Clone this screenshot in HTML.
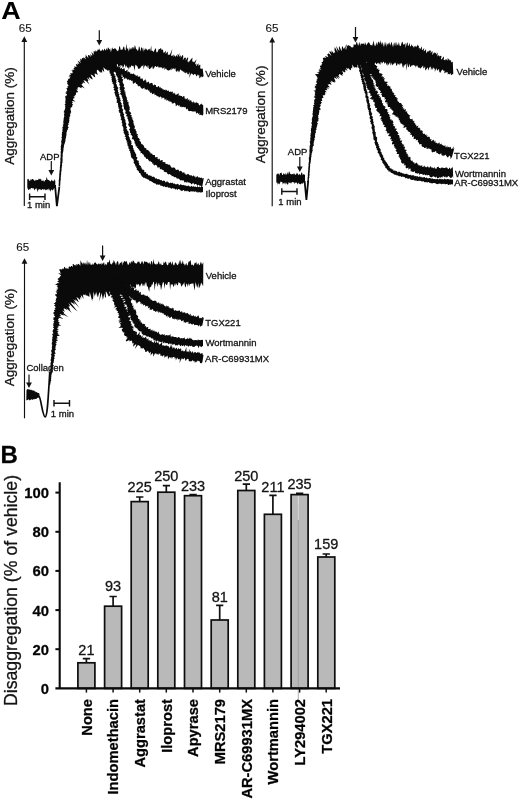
<!DOCTYPE html>
<html lang="en">
<head>
<meta charset="utf-8">
<title>Figure</title>
<style>
html,body{margin:0;padding:0;background:#fff;}
body{width:520px;height:800px;overflow:hidden;font-family:"Liberation Sans",Arial,sans-serif;}
svg{display:block;}
</style>
</head>
<body>
<svg width="520" height="800" viewBox="0 0 520 800">
<rect width="520" height="800" fill="#fff"/>
<g id="p1" fill="#0a0a0a">
<line x1="24.3" y1="40.3" x2="24.3" y2="206" stroke="#111" stroke-width="1.15"/><polygon points="21.400000000000002,41.9 27.2,41.9 24.3,36.3" fill="#111"/>
<polygon points="27.3,179.6 28.0,178.8 28.7,179.2 29.5,180.9 30.2,180.7 30.9,178.8 31.6,179.9 32.3,179.0 33.0,179.1 33.8,180.1 34.5,180.7 35.2,180.7 35.9,179.4 36.6,180.2 37.4,180.0 38.1,179.9 38.8,178.5 39.5,179.1 40.2,179.6 40.9,178.5 41.7,181.0 42.4,181.1 43.1,179.7 43.8,181.5 44.5,181.5 45.2,180.0 46.0,180.1 46.7,176.7 47.4,179.6 48.1,180.0 48.8,180.1 49.6,180.8 50.3,181.6 51.0,181.0 51.7,179.4 52.4,181.0 53.1,180.5 53.9,181.6 54.6,179.0 55.3,181.1 55.3,187.5 54.6,188.0 53.9,188.6 53.1,190.1 52.4,190.5 51.7,189.4 51.0,189.7 50.3,191.7 49.6,189.9 48.8,188.2 48.1,190.4 47.4,189.0 46.7,190.3 46.0,189.2 45.2,190.6 44.5,188.7 43.8,190.2 43.1,188.7 42.4,189.2 41.7,189.7 40.9,190.2 40.2,189.0 39.5,189.0 38.8,190.5 38.1,188.8 37.4,192.4 36.6,188.2 35.9,188.4 35.2,189.2 34.5,190.4 33.8,188.5 33.0,187.9 32.3,188.5 31.6,188.0 30.9,188.1 30.2,189.7 29.5,189.0 28.7,189.9 28.0,189.4 27.3,187.4"/>
<path d="M55,185 L56.9,206.2 L59.4,186.5" stroke="#0a0a0a" stroke-width="1.8" fill="none" stroke-linejoin="miter"/>
<polygon points="58.6,186.0 58.7,185.3 58.7,184.6 58.6,183.9 58.8,183.2 58.8,182.5 58.9,181.8 58.6,181.1 58.7,180.4 58.9,179.7 59.0,179.0 59.0,178.3 59.1,177.6 59.1,176.9 59.2,176.2 59.2,175.5 59.3,174.8 59.2,174.0 59.3,173.4 59.4,172.7 59.6,172.0 59.4,171.2 59.5,170.5 59.8,169.9 59.9,169.2 59.9,168.5 59.7,167.7 60.0,167.1 60.1,166.4 59.9,165.6 60.1,164.9 60.3,164.3 60.3,163.5 60.1,162.8 60.4,162.1 60.3,161.4 60.6,160.7 60.3,160.0 60.4,159.3 60.4,158.6 60.5,157.9 60.6,157.2 60.8,156.5 60.6,155.8 60.5,155.1 60.8,154.4 60.8,153.7 60.7,153.0 60.6,152.3 60.6,151.6 61.0,150.9 61.0,150.2 60.5,149.5 60.9,148.8 60.9,148.1 60.8,147.4 60.7,146.6 60.9,146.0 61.0,145.3 61.3,144.6 61.2,143.9 61.5,143.2 61.2,142.4 61.3,141.7 61.0,141.0 61.6,140.4 61.7,139.7 61.7,139.0 62.0,138.3 61.3,137.5 61.8,136.8 62.0,136.2 62.0,135.4 61.5,134.7 62.2,134.1 61.9,133.3 61.9,132.6 62.2,131.9 62.7,131.3 62.3,130.5 62.2,129.8 62.9,129.2 62.5,128.4 62.5,127.7 62.2,127.0 63.2,126.4 63.3,125.7 62.5,124.9 63.5,124.3 63.5,123.6 63.2,122.8 63.4,122.2 63.2,121.4 63.8,120.8 63.1,120.0 63.9,119.4 63.4,118.6 64.2,118.0 63.8,117.2 64.4,116.6 64.2,115.9 64.2,115.2 63.8,114.4 64.2,113.7 64.7,113.1 63.7,112.3 63.9,111.6 63.9,110.9 64.8,110.3 64.7,109.5 65.0,108.9 65.2,108.2 65.4,107.5 64.8,106.7 65.4,106.1 65.4,105.4 64.5,104.6 65.1,103.9 65.7,103.3 65.0,102.5 65.7,101.9 64.8,101.1 65.8,100.5 65.5,99.7 65.4,99.0 65.7,98.3 65.1,97.5 65.4,96.9 65.3,96.1 66.7,95.6 66.9,94.9 67.0,94.3 65.5,93.3 65.6,92.6 67.2,92.1 65.7,91.2 67.4,90.8 66.9,90.0 67.0,89.3 66.2,88.4 67.3,87.9 67.8,87.3 67.2,86.5 68.6,86.0 68.3,85.2 67.9,84.4 67.0,83.5 67.4,82.9 67.4,82.2 66.7,81.3 67.9,80.8 67.7,80.1 68.2,79.4 68.3,78.7 69.7,78.4 70.3,77.8 68.4,76.4 70.8,76.6 68.9,75.0 70.1,74.7 71.2,74.5 69.8,72.9 72.5,73.6 71.8,72.4 73.4,72.7 71.3,70.2 72.9,70.5 72.6,69.4 74.6,70.1 73.4,68.3 74.1,68.0 74.7,67.5 74.0,66.3 76.2,66.9 76.6,66.3 76.0,65.1 75.9,64.1 78.1,64.7 77.3,63.3 79.4,64.0 78.6,62.4 77.4,60.5 81.2,62.9 79.4,60.2 80.9,60.8 79.8,58.4 81.9,59.8 81.8,58.4 82.3,57.9 83.5,58.3 83.5,57.0 85.9,59.5 85.2,57.0 85.8,56.6 85.5,54.6 88.4,58.3 88.0,56.1 88.2,54.9 89.0,54.9 90.9,56.9 90.1,54.0 91.7,55.5 92.4,55.4 91.3,51.6 93.6,54.8 93.7,53.2 93.6,51.3 94.4,51.2 95.4,51.8 95.6,50.1 96.9,51.8 97.3,50.7 97.7,49.4 98.6,50.0 99.0,48.3 100.4,51.2 100.9,50.2 101.8,51.0 102.1,48.8 103.2,50.8 103.8,50.2 104.3,48.4 105.2,49.8 106.0,50.7 106.4,47.7 107.3,50.3 107.9,47.5 108.6,47.8 109.4,49.8 110.1,48.2 110.9,52.3 111.5,50.1 112.1,47.3 112.9,48.9 113.6,49.0 114.3,48.4 115.0,48.3 115.7,48.8 116.5,49.8 117.2,51.2 117.9,50.5 118.6,50.5 119.2,46.5 119.9,46.2 120.7,50.1 121.4,49.5 122.1,49.9 122.8,48.7 123.5,46.4 124.2,46.8 124.9,49.9 125.6,50.5 126.3,43.4 127.0,49.1 127.7,48.0 128.4,51.7 129.1,46.9 129.8,50.2 130.5,48.7 131.2,47.6 131.9,49.6 132.6,47.1 133.3,47.1 134.0,49.2 134.8,45.1 135.5,46.7 136.2,49.8 136.9,48.8 137.6,50.9 138.3,50.2 139.0,46.0 139.7,47.5 140.4,51.8 141.1,47.7 141.8,47.2 142.5,48.6 143.2,51.8 143.9,47.6 144.6,50.7 145.3,48.1 146.0,49.9 146.8,48.4 147.4,50.7 148.1,49.4 148.9,49.2 149.6,48.6 150.1,51.2 151.3,45.5 151.5,50.8 152.2,50.8 152.9,51.1 153.5,52.3 154.4,50.3 155.4,48.3 156.0,48.8 156.3,51.9 157.0,52.4 157.8,51.4 158.9,48.8 159.6,49.2 160.5,48.2 161.2,48.2 161.6,50.2 162.5,49.5 163.1,49.7 163.3,52.3 163.9,52.9 164.8,52.0 165.9,50.4 165.7,54.1 166.9,52.5 167.9,51.6 167.8,54.7 168.4,54.8 169.2,54.8 170.0,54.4 172.4,48.8 170.9,56.2 171.8,55.5 172.5,55.8 173.7,54.3 173.5,57.1 175.0,54.9 175.1,56.7 176.0,56.3 177.6,53.8 177.1,57.2 179.4,53.1 179.2,55.8 179.5,56.8 181.0,55.1 180.6,58.0 182.5,55.1 183.1,55.5 183.3,56.9 182.7,60.2 184.6,57.5 185.1,58.1 186.1,57.6 185.6,60.5 187.8,57.3 188.3,58.0 187.3,61.8 188.4,61.2 188.4,62.7 190.7,59.5 192.5,57.5 192.3,59.4 192.2,61.4 192.9,61.5 193.6,61.8 193.9,62.6 196.6,59.2 195.3,63.1 195.2,64.6 196.6,63.6 195.8,66.5 198.4,63.2 198.5,64.6 198.5,66.0 200.0,64.6 200.4,65.3 200.2,67.3 200.4,68.6 201.1,68.7 201.9,68.8 202.7,68.6 203.6,76.2 202.5,76.9 201.6,77.2 201.3,76.1 199.8,78.2 199.2,77.7 199.3,75.1 198.4,75.8 198.1,74.2 197.1,75.4 196.0,76.4 195.8,74.7 195.2,74.1 194.5,73.9 193.4,75.3 192.9,74.5 192.3,74.0 191.8,73.2 190.8,74.2 189.1,78.0 190.0,71.9 188.6,74.3 187.9,74.2 187.3,73.9 187.1,71.8 185.9,73.5 185.4,72.7 184.6,73.0 184.2,71.5 183.4,72.2 183.0,70.5 182.1,71.5 181.6,70.6 181.0,70.1 180.4,69.2 179.0,72.5 178.5,71.5 178.0,70.3 177.0,71.8 176.3,71.5 175.7,71.0 175.6,68.1 174.6,69.6 174.1,68.2 173.3,68.7 172.6,68.6 171.6,70.4 171.3,67.9 170.2,70.3 169.5,69.9 168.7,70.5 168.0,70.6 167.4,70.0 166.7,69.7 166.2,68.5 165.5,68.6 164.6,69.9 164.2,67.0 163.4,68.3 162.6,68.8 162.0,67.6 161.4,67.4 160.6,67.5 160.0,67.0 159.2,67.7 158.5,67.4 158.0,65.8 157.2,67.0 156.4,67.1 155.8,66.3 155.1,66.0 154.3,67.6 153.5,68.7 152.8,69.1 152.3,66.1 151.5,67.6 150.8,67.9 150.0,68.9 149.3,69.0 148.6,68.1 148.1,64.8 147.2,68.1 146.6,66.2 145.9,66.2 145.3,65.0 144.5,65.9 143.6,69.6 143.2,64.6 142.4,66.2 141.7,65.7 140.9,67.6 140.2,67.8 139.5,68.8 138.8,68.7 138.1,68.7 137.5,66.4 136.8,66.0 136.1,65.0 135.4,64.8 134.4,71.0 133.9,67.6 133.3,65.6 132.5,66.3 131.9,65.2 131.1,66.1 130.4,67.8 129.7,66.2 128.9,69.9 128.3,67.6 127.6,67.8 126.9,66.9 126.2,65.2 125.5,67.9 124.9,63.9 124.1,65.3 123.4,67.6 122.7,67.7 122.0,64.8 121.3,66.2 120.6,65.0 119.9,65.8 119.2,66.2 118.7,68.2 117.7,64.3 116.9,64.0 117.1,71.5 115.7,65.7 114.9,65.6 114.3,66.2 113.4,65.3 112.7,65.4 111.9,65.0 111.3,65.9 110.5,65.4 110.3,67.6 110.2,69.9 108.8,67.7 108.8,70.2 107.1,66.8 106.8,68.2 106.4,69.5 105.7,69.5 104.6,68.6 103.4,67.2 104.3,71.9 103.4,71.3 101.9,69.4 102.2,72.0 102.1,73.1 100.6,71.6 100.6,73.0 98.0,69.9 97.0,69.7 96.9,71.0 96.8,72.1 97.9,74.9 96.6,74.2 95.1,73.4 94.5,73.7 94.8,75.3 95.3,77.2 94.3,77.0 92.1,75.1 90.6,74.4 92.2,77.7 92.7,79.5 91.4,78.9 89.2,77.2 88.7,77.7 90.0,80.6 86.9,77.6 88.4,80.8 87.6,80.9 89.5,84.5 85.9,81.0 84.7,80.6 83.4,80.3 85.4,83.5 83.6,82.6 82.7,82.7 82.7,83.7 82.1,84.1 81.4,84.4 84.8,88.4 82.2,87.1 81.4,87.3 81.5,88.3 78.9,86.9 78.3,87.3 77.6,87.7 77.5,88.6 77.8,89.7 76.2,89.5 77.9,91.4 78.1,92.2 76.9,92.3 76.0,92.7 76.0,93.4 75.6,94.0 76.1,95.0 74.5,95.2 75.5,96.2 73.5,96.3 74.4,97.4 74.6,98.2 73.1,98.5 73.1,99.2 73.3,100.0 75.7,101.5 72.2,101.1 72.3,101.9 73.0,102.8 71.8,103.2 72.7,104.2 73.0,105.0 72.0,105.5 72.4,106.3 71.9,106.9 71.1,107.4 70.6,108.0 70.5,108.7 70.5,109.5 70.7,110.2 70.9,111.0 71.1,111.7 71.2,112.4 70.0,113.0 70.9,113.8 69.9,114.4 69.9,115.1 70.6,115.9 69.7,116.5 69.6,117.1 69.3,117.8 69.6,118.6 69.2,119.2 69.2,119.9 69.5,120.7 69.0,121.3 69.3,122.1 69.0,122.8 68.1,123.3 69.0,124.2 68.2,124.8 67.8,125.4 68.3,126.2 67.6,126.8 69.0,127.8 67.8,128.3 68.0,129.0 67.7,129.7 67.1,130.3 67.0,131.0 66.9,131.7 66.5,132.3 66.5,133.0 66.5,133.7 66.4,134.4 66.7,135.2 66.0,135.8 66.2,136.5 66.0,137.2 65.9,137.9 65.7,138.6 65.7,139.3 65.1,139.9 65.7,140.7 65.2,141.4 65.2,142.1 64.9,142.7 64.8,143.4 64.3,144.0 64.3,144.8 63.9,145.4 63.9,146.1 64.0,146.9 63.7,147.5 63.5,148.2 63.5,148.9 63.5,149.6 63.4,150.3 63.3,151.0 63.2,151.7 63.0,152.4 63.0,153.1 62.6,153.8 62.7,154.5 62.6,155.2 62.9,155.9 62.7,156.6 62.5,157.3 62.4,158.0 62.6,158.7 62.6,159.4 62.6,160.1 62.6,160.8 62.4,161.5 62.5,162.2 62.4,162.9 62.1,163.6 62.0,164.3 62.1,165.0 62.1,165.7 61.8,166.4 61.8,167.1 61.8,167.8 61.5,168.5 61.7,169.2 61.5,169.9 61.6,170.6 61.4,171.3 61.2,172.0 61.2,172.7 61.0,173.4 61.3,174.1 61.0,174.8 60.9,175.5 61.0,176.2 60.7,176.9 60.8,177.6 60.6,178.3 60.9,179.0 60.7,179.7 60.6,180.4 60.4,181.1 60.4,181.8 60.4,182.5 60.4,183.2 60.2,183.9 60.3,184.6 60.2,185.3 60.2,186.0"/>
<polygon points="106.1,63.5 106.6,64.9 107.5,63.8 108.0,65.3 108.7,65.5 109.7,63.8 110.2,64.9 111.2,63.4 111.9,64.0 112.6,64.0 113.2,64.7 114.0,64.2 114.6,64.9 115.5,64.4 116.2,64.7 116.2,67.0 117.0,66.6 117.8,66.6 118.3,67.1 118.9,67.6 120.8,65.0 120.0,68.5 120.7,68.5 122.1,67.5 122.0,69.0 122.7,69.3 124.2,68.0 124.6,68.8 124.8,69.9 125.0,70.9 125.8,70.9 127.3,69.7 127.7,70.5 127.4,72.4 128.8,71.3 129.0,72.4 130.1,72.0 130.2,73.3 130.6,74.0 131.6,73.5 132.0,74.3 133.3,73.4 134.0,73.7 134.4,74.5 135.1,74.7 135.7,75.0 135.8,76.2 137.1,75.3 137.8,75.4 137.8,77.0 138.8,76.6 139.7,76.5 140.4,76.7 140.1,78.7 141.2,78.2 141.5,79.1 142.7,78.3 142.8,79.6 143.2,80.4 143.6,81.3 145.5,79.0 145.6,80.4 146.4,80.4 146.2,82.3 147.0,82.4 148.0,81.9 149.0,81.4 149.1,82.8 149.4,83.8 150.5,83.2 151.6,82.7 152.1,83.2 152.8,83.4 152.8,84.9 153.3,85.5 154.6,84.4 155.2,84.9 155.9,85.1 156.0,86.4 156.6,87.0 157.2,87.3 158.4,86.0 159.1,86.2 159.3,87.8 160.4,86.7 160.7,88.2 161.4,88.2 162.2,88.2 162.5,89.3 163.3,89.4 163.9,89.6 164.6,89.9 165.5,89.5 165.7,90.7 167.0,89.4 167.1,91.1 168.0,90.7 168.9,90.6 169.0,92.0 169.9,91.7 170.7,91.6 171.3,92.0 172.4,91.4 172.9,92.0 172.8,93.9 174.2,92.5 174.5,93.4 175.3,93.4 175.4,95.0 176.4,94.5 177.3,94.3 178.6,93.1 178.7,94.6 178.7,96.3 180.0,95.1 180.4,96.0 181.1,96.1 182.0,95.9 182.1,97.3 183.3,96.3 184.3,95.9 184.5,97.1 184.7,98.5 185.5,98.4 185.8,99.5 187.0,98.4 188.0,97.9 187.7,100.4 189.0,99.3 189.6,99.7 189.5,101.5 191.1,99.7 191.3,101.0 191.7,101.8 192.1,102.7 193.5,101.1 193.7,102.5 194.6,102.3 194.9,103.4 196.5,101.5 196.6,102.9 197.5,102.7 198.0,103.3 198.7,103.5 198.9,104.9 199.3,105.6 200.8,103.9 201.7,103.6 201.9,105.0 202.8,104.6 203.2,105.4 203.4,114.3 202.0,116.0 201.7,114.8 200.9,114.9 200.2,114.8 199.2,115.2 199.5,112.8 198.0,114.4 198.0,112.6 197.0,113.3 196.1,113.5 195.9,112.3 195.5,111.3 194.7,111.5 193.9,111.5 193.1,111.5 192.4,111.5 191.7,111.2 191.1,111.0 190.3,110.9 189.4,111.2 188.9,110.7 188.1,110.8 187.9,109.4 187.5,108.4 186.2,109.6 186.0,108.4 185.7,107.3 185.0,107.0 184.0,107.6 183.6,106.7 182.7,107.0 181.8,107.5 181.4,106.5 180.5,106.8 179.7,106.9 179.8,104.9 178.4,106.2 178.2,105.0 177.5,104.8 176.0,106.3 175.6,105.6 175.7,103.8 175.0,103.6 174.8,102.4 173.6,103.3 172.6,103.6 171.9,103.4 171.7,102.2 171.1,101.8 170.4,101.6 169.5,101.9 169.4,100.5 168.1,101.6 168.2,99.7 167.1,100.5 166.2,100.6 166.4,98.4 165.0,100.0 164.5,99.4 164.3,98.0 163.5,98.1 163.0,97.2 161.7,98.9 161.5,97.3 160.8,97.0 160.4,96.2 159.2,97.4 158.6,96.9 158.2,96.0 157.3,96.3 156.6,96.3 156.3,95.1 155.8,94.7 154.6,95.3 154.5,94.0 154.1,93.3 152.9,94.1 151.9,94.2 151.9,92.9 151.4,92.4 150.0,93.2 150.3,91.5 149.2,91.9 149.4,90.3 148.3,90.7 148.0,89.9 147.6,89.2 146.2,90.0 146.0,89.0 144.8,89.7 144.6,88.6 144.4,87.5 142.8,88.8 142.1,88.7 141.5,88.3 140.9,87.9 140.6,87.0 140.2,86.4 139.5,86.1 138.5,86.4 138.1,85.6 137.5,85.4 137.4,84.2 136.7,84.0 135.9,83.8 135.8,82.6 135.1,82.5 133.5,83.8 132.9,83.4 132.7,82.3 132.6,81.1 132.2,80.4 131.0,81.0 130.9,79.7 129.7,80.5 129.3,79.8 128.7,79.3 127.6,79.9 127.2,79.2 126.9,78.2 125.6,79.0 125.7,77.4 123.6,79.8 124.1,77.4 123.4,77.2 122.9,76.7 122.4,76.2 122.3,74.8 121.5,74.8 120.8,74.6 120.3,74.1 119.5,74.1 118.8,73.8 118.1,73.7 117.9,72.4 116.3,74.2 116.1,73.0 115.9,71.7 115.4,71.0 113.9,72.6 113.1,72.8 112.5,72.4 112.0,72.0 111.6,70.8 111.0,70.6 110.2,71.0 109.7,69.4 109.0,69.4 108.0,71.1 107.4,70.5 106.8,69.5 106.0,69.5"/>
<polygon points="110.4,65.4 111.6,65.6 111.5,66.4 112.1,67.0 111.8,67.8 111.6,68.7 111.8,69.4 112.9,69.7 112.9,70.5 113.2,71.2 113.3,71.9 113.3,72.7 114.0,73.2 113.9,74.0 115.0,74.4 114.2,75.4 115.6,75.8 115.6,76.5 115.1,77.4 115.8,78.0 115.7,78.7 115.7,79.5 116.4,80.1 116.6,80.7 115.8,81.6 117.0,82.1 115.9,83.1 116.0,83.8 116.8,84.3 116.7,85.1 117.0,85.7 117.3,86.4 117.4,87.1 118.2,87.6 118.4,88.3 117.7,89.2 117.7,89.9 118.4,90.4 117.9,91.3 118.3,91.9 118.9,92.5 118.1,93.4 119.3,93.8 119.4,94.5 119.1,95.3 119.0,96.0 119.6,96.6 119.4,97.4 120.4,97.9 120.2,98.6 120.0,99.4 120.9,99.9 120.7,100.7 120.2,101.5 120.8,102.1 121.1,102.7 121.9,103.3 121.2,104.2 121.6,104.8 122.5,105.3 121.9,106.2 122.6,106.7 121.7,107.7 122.3,108.2 122.2,109.0 123.4,109.4 123.1,110.2 122.8,111.0 122.7,111.8 123.4,112.4 123.1,113.2 123.8,113.7 124.3,114.3 123.8,115.2 123.8,115.9 124.2,116.5 124.1,117.3 125.2,117.8 124.2,118.7 125.3,119.2 124.9,120.0 125.6,120.6 125.8,121.3 125.0,122.1 126.0,122.7 126.4,123.3 126.0,124.1 126.3,124.7 125.9,125.5 125.9,126.2 126.9,126.7 127.1,127.4 126.4,128.2 126.4,129.0 126.9,129.5 127.5,130.1 127.3,130.9 128.4,131.3 128.3,132.0 128.7,132.6 128.4,133.4 128.8,134.0 129.3,134.6 128.2,135.7 129.2,136.1 128.8,136.9 129.9,137.3 129.3,138.3 130.3,138.7 129.9,139.5 130.6,140.0 130.8,140.7 131.4,141.3 131.5,141.9 131.2,142.8 131.7,143.4 131.2,144.3 131.3,145.0 132.5,145.3 133.0,145.9 133.0,146.7 132.9,147.4 133.2,148.0 133.6,148.7 133.6,149.4 133.6,150.1 134.5,150.6 134.0,151.4 135.0,151.8 135.1,152.5 135.4,153.2 135.7,153.8 136.1,154.4 136.4,155.0 136.0,155.9 136.0,156.6 136.8,157.1 137.4,157.6 137.2,158.4 136.6,159.4 136.9,160.0 137.8,160.4 138.5,160.8 138.9,161.4 138.5,162.4 139.0,162.9 139.3,163.5 139.0,164.4 139.2,165.1 140.2,165.4 140.5,166.1 141.2,166.5 140.6,167.5 141.8,167.5 141.4,168.5 142.1,168.8 142.6,169.1 142.3,170.1 143.7,169.8 144.1,170.3 144.5,170.7 144.0,172.2 145.1,171.9 145.6,172.3 146.3,172.5 146.2,173.7 146.7,174.1 147.8,173.7 147.9,174.7 148.3,175.3 148.8,175.6 149.8,175.2 150.4,175.7 151.1,175.7 151.8,175.9 151.8,177.3 153.1,176.4 153.6,176.8 154.3,177.0 154.8,177.5 155.1,178.3 155.7,178.7 156.7,178.1 157.0,179.0 157.7,179.2 158.4,179.1 159.0,179.3 159.6,179.5 160.3,179.9 160.9,180.2 161.6,180.1 162.1,180.8 162.7,181.2 163.6,180.5 164.3,180.7 164.9,181.1 165.3,182.1 165.9,182.4 166.9,181.3 167.6,181.5 168.0,182.6 168.8,182.2 169.3,183.3 170.1,182.9 170.9,182.6 171.5,183.2 172.3,182.7 173.0,182.7 173.4,184.0 174.3,183.3 174.9,183.9 175.5,184.3 176.2,184.2 177.0,184.2 177.8,183.7 178.4,184.0 178.9,185.2 179.6,185.3 180.5,184.0 181.1,184.8 181.8,184.8 182.4,185.3 183.2,184.7 183.8,185.2 184.5,185.2 185.1,185.8 185.9,185.2 186.5,186.1 187.1,186.3 187.9,185.7 188.7,185.4 189.2,186.3 189.9,186.4 190.6,186.7 191.3,186.0 192.0,185.8 192.6,186.9 193.4,186.3 194.1,186.3 194.7,187.0 195.4,186.4 196.1,186.9 196.8,187.0 197.5,185.9 198.2,187.2 198.9,186.9 199.6,186.5 200.3,186.8 200.9,187.4 201.6,186.1 202.3,187.1 203.0,186.8 203.0,192.1 202.3,192.2 201.5,192.3 200.8,193.0 200.1,191.8 199.4,192.2 198.6,192.8 198.0,191.5 197.2,192.7 196.5,192.0 195.8,191.3 195.1,191.8 194.4,191.7 193.7,191.2 192.9,191.7 192.3,191.3 191.5,191.6 190.9,190.9 190.0,192.0 189.3,192.0 188.6,191.3 187.9,191.6 187.3,190.4 186.4,191.5 185.9,190.4 185.0,191.4 184.4,190.9 183.8,189.9 183.0,190.3 182.2,191.0 181.5,190.8 180.8,190.7 180.2,189.7 179.5,189.5 178.9,189.1 178.2,188.9 177.2,190.2 176.8,188.6 175.8,189.9 175.3,188.9 174.6,188.8 173.9,188.5 173.2,188.6 172.6,188.1 171.7,188.7 171.0,188.5 170.4,188.1 169.8,187.4 169.0,187.9 168.3,187.6 167.7,187.2 167.1,186.6 166.1,187.5 165.5,187.0 164.8,186.7 164.2,186.1 163.3,186.9 162.8,186.1 162.0,186.3 161.4,185.6 160.5,186.1 160.2,184.7 159.5,184.5 158.6,184.8 157.9,184.7 157.3,184.2 156.3,184.7 155.8,183.9 155.3,183.2 154.4,183.4 153.9,182.7 153.0,183.0 152.6,182.0 151.8,182.0 151.4,181.2 150.7,181.1 149.7,181.3 149.4,180.4 148.8,180.1 148.2,179.5 147.5,179.3 146.9,178.9 146.2,178.6 145.3,178.6 144.9,177.8 143.9,178.0 143.2,177.6 142.7,176.9 142.2,176.4 141.4,176.0 141.4,174.9 140.6,174.6 140.6,173.5 139.8,173.1 139.0,172.8 138.9,171.9 138.7,171.1 137.9,170.7 137.4,170.1 136.5,169.6 137.1,168.5 136.2,168.0 136.3,167.2 136.4,166.4 134.9,166.3 135.5,165.2 134.9,164.7 134.8,164.0 134.2,163.5 133.8,162.9 133.5,162.2 134.0,161.2 133.6,160.6 133.6,159.9 133.2,159.3 132.8,158.7 132.0,158.2 131.3,157.7 131.5,156.9 130.9,156.4 130.9,155.6 130.8,154.9 130.7,154.2 130.6,153.4 130.3,152.8 130.0,152.1 130.4,151.2 129.2,150.9 129.3,150.1 129.8,149.2 128.5,148.9 128.7,148.1 128.4,147.4 128.2,146.8 128.5,145.9 127.2,145.6 127.9,144.6 127.0,144.2 127.4,143.3 127.5,142.5 126.3,142.2 127.0,141.2 126.6,140.6 126.0,140.0 125.9,139.3 125.3,138.8 125.9,137.8 125.9,137.1 124.4,136.8 125.5,135.8 125.0,135.2 124.8,134.5 124.2,133.9 124.2,133.2 123.5,132.6 123.5,131.9 124.2,131.0 122.8,130.6 123.5,129.7 123.2,129.0 123.5,128.2 123.3,127.5 122.6,126.9 123.0,126.1 121.9,125.6 122.0,124.9 122.6,124.0 122.2,123.4 121.6,122.8 121.9,122.0 122.0,121.3 121.6,120.6 121.6,119.9 120.5,119.4 121.4,118.5 120.5,118.0 121.4,117.1 120.6,116.5 120.0,116.0 120.3,115.2 120.2,114.5 120.3,113.8 120.2,113.1 119.0,112.7 119.4,111.9 118.7,111.3 118.6,110.6 119.0,109.8 119.6,108.9 118.4,108.5 118.8,107.7 118.1,107.1 118.2,106.4 118.3,105.6 117.8,105.0 118.1,104.2 118.0,103.5 117.7,102.9 116.5,102.4 116.9,101.6 116.6,101.0 117.0,100.2 117.2,99.4 115.8,99.0 116.8,98.0 116.4,97.4 116.2,96.7 115.4,96.2 115.4,95.4 115.1,94.8 115.2,94.0 114.8,93.4 114.2,92.8 114.7,92.0 115.0,91.2 114.4,90.6 114.1,89.9 113.5,89.3 114.6,88.4 113.7,87.9 113.2,87.2 114.0,86.4 113.6,85.7 113.7,85.0 113.5,84.3 112.8,83.7 112.2,83.2 112.9,82.3 111.7,81.8 111.9,81.1 112.0,80.4 111.5,79.8 111.7,79.0 112.0,78.2 111.1,77.8 111.7,76.9 111.7,76.2 111.1,75.7 110.2,75.3 110.8,74.3 110.6,73.7 109.5,73.3 109.9,72.5 109.2,72.0 109.7,71.0 109.5,70.4 108.4,70.1 108.5,69.3 107.9,68.8 108.1,67.9 107.8,67.3 106.7,67.0"/>
<polygon points="115.5,64.5 115.4,65.4 115.5,66.3 115.7,67.1 116.7,67.2 117.9,67.3 117.6,68.4 118.3,68.9 119.1,69.2 119.4,69.9 119.6,70.7 119.8,71.5 119.5,72.4 120.7,72.7 120.5,73.6 121.3,74.1 120.8,75.2 122.2,75.4 121.2,76.6 122.4,77.0 122.8,77.7 121.7,78.8 123.1,79.2 122.9,80.0 123.0,80.7 122.5,81.5 122.8,82.2 122.8,82.9 123.3,83.6 123.8,84.2 124.0,84.9 124.1,85.6 123.6,86.4 123.7,87.1 124.6,87.6 125.1,88.3 123.9,89.2 124.4,89.8 124.3,90.6 125.7,91.0 124.1,92.0 125.8,92.4 125.7,93.1 125.1,93.9 125.9,94.5 125.5,95.3 126.1,95.8 125.9,96.6 127.0,97.0 126.4,97.9 127.2,98.4 126.9,99.2 126.8,100.0 128.0,100.4 126.8,101.4 128.3,101.8 128.6,102.4 128.6,103.2 128.3,104.0 128.5,104.6 129.3,105.2 128.6,106.1 129.5,106.6 129.6,107.3 129.9,107.9 129.4,108.8 129.9,109.4 129.2,110.3 129.3,111.0 129.6,111.7 130.9,112.1 130.4,112.9 131.5,113.3 130.3,114.4 130.6,115.0 132.0,115.4 131.5,116.3 131.3,117.1 132.5,117.5 131.7,118.4 133.2,118.8 132.2,119.8 133.4,120.2 132.9,121.0 133.9,121.5 133.0,122.5 134.2,122.9 133.4,123.8 133.8,124.4 134.3,125.0 134.4,125.7 134.8,126.4 135.0,127.0 134.5,127.9 134.2,128.7 135.6,129.0 135.6,129.7 135.8,130.4 135.9,131.1 136.8,131.4 136.0,132.4 137.2,132.7 136.2,133.8 137.4,134.1 138.0,134.5 137.0,135.7 138.3,135.8 137.7,136.8 137.7,137.6 138.6,137.9 139.3,138.3 139.0,139.2 140.4,139.3 139.2,140.6 139.9,141.0 140.4,141.5 140.8,142.1 141.1,142.7 141.0,143.5 141.7,143.9 142.1,144.4 143.1,144.6 143.1,145.4 144.0,145.6 144.0,146.5 144.3,147.1 144.5,147.8 145.0,148.2 146.4,147.9 146.2,148.9 146.5,149.6 146.8,150.2 148.1,149.8 148.4,150.4 148.9,150.9 149.5,151.1 149.3,152.3 150.4,152.1 150.2,153.4 151.4,153.0 151.5,153.9 152.4,153.8 152.5,154.8 153.2,155.0 154.1,155.0 154.9,155.0 154.9,156.3 155.2,157.0 155.8,157.4 156.9,157.0 157.7,157.1 157.4,158.8 158.3,158.7 158.7,159.4 160.0,158.6 159.8,160.2 160.3,160.7 161.6,160.1 162.4,160.1 162.7,160.8 162.6,162.2 163.5,162.1 164.2,162.3 165.1,162.1 165.5,162.7 165.5,164.1 166.4,163.9 167.3,163.8 167.7,164.5 168.4,164.7 169.3,164.6 169.9,164.9 170.3,165.5 170.7,166.2 171.0,167.0 171.5,167.5 172.1,167.8 173.1,167.4 173.8,167.5 174.5,167.7 175.2,168.0 175.2,169.3 175.9,169.5 176.4,170.0 177.3,169.8 178.2,169.4 178.7,170.0 179.0,170.8 179.4,171.6 180.6,170.8 181.2,170.9 181.8,171.4 182.0,172.5 182.7,172.6 183.5,172.5 184.3,172.2 184.5,173.6 185.3,173.6 185.6,174.4 186.2,174.8 187.0,174.6 188.0,173.8 188.6,174.3 189.1,174.8 189.7,175.2 190.2,175.6 191.2,175.0 191.7,175.6 192.1,176.5 193.0,175.8 193.8,175.3 194.1,177.1 195.1,175.6 195.4,177.4 196.2,177.2 197.1,176.2 197.8,176.3 198.1,177.8 199.0,177.1 199.6,177.4 200.2,177.9 201.0,177.4 201.7,177.8 202.2,178.6 203.0,178.3 203.8,178.0 202.3,186.4 201.4,186.8 200.9,185.9 200.2,185.4 199.4,185.8 198.8,184.7 198.0,185.1 197.1,185.9 196.7,184.4 196.0,184.0 195.3,183.9 194.3,184.8 193.9,183.5 193.2,183.2 192.4,183.6 191.4,184.4 190.9,183.4 190.2,183.1 189.5,182.9 189.0,182.0 187.9,183.0 187.6,181.6 186.4,182.9 186.1,181.5 185.0,182.5 184.3,182.2 184.0,180.9 183.4,180.3 182.5,180.5 181.8,180.4 181.2,179.9 180.1,180.5 179.7,179.6 179.2,178.9 178.6,178.6 177.5,179.3 177.4,177.7 176.2,178.4 176.1,176.9 175.2,177.2 174.4,177.2 173.8,176.8 173.2,176.2 172.6,175.9 171.6,176.3 171.4,175.1 170.6,174.9 170.2,174.3 169.5,174.0 168.3,174.6 167.8,174.0 167.3,173.5 166.9,172.7 166.4,172.1 165.4,172.3 164.9,171.7 163.8,172.1 164.0,170.4 163.2,170.3 162.7,169.7 161.7,169.9 161.7,168.7 160.5,169.2 159.8,169.0 159.8,167.6 159.2,167.3 158.1,167.6 157.2,167.6 157.2,166.3 156.9,165.5 156.2,165.2 155.7,164.7 154.2,165.6 153.8,165.0 153.3,164.4 153.3,163.2 152.0,163.7 152.2,162.3 151.4,162.1 150.7,161.9 150.7,160.7 149.2,161.4 149.1,160.4 148.3,160.2 148.1,159.2 147.6,158.8 146.4,159.0 146.0,158.4 145.8,157.4 145.0,157.2 144.4,156.7 144.1,156.0 143.8,155.2 143.4,154.5 142.5,154.3 142.2,153.6 141.8,152.9 140.3,153.2 140.9,151.7 140.2,151.3 139.7,150.6 139.0,150.2 138.9,149.3 138.2,148.9 138.0,148.1 136.9,147.9 137.4,146.6 136.4,146.4 135.4,146.1 136.0,144.9 135.3,144.4 135.3,143.5 134.3,143.2 134.9,142.1 134.6,141.4 134.1,140.9 134.0,140.1 133.7,139.4 132.3,139.2 131.8,138.6 132.2,137.6 132.6,136.7 132.1,136.1 131.9,135.4 131.0,134.9 130.5,134.3 131.3,133.3 130.1,132.9 130.0,132.1 130.0,131.4 129.9,130.6 129.3,130.0 128.9,129.4 130.1,128.3 130.1,127.6 129.7,127.0 129.1,126.4 128.7,125.8 128.4,125.1 128.1,124.5 128.6,123.6 129.0,122.8 128.6,122.1 128.7,121.4 128.2,120.8 128.2,120.1 128.1,119.4 127.5,118.8 127.3,118.1 127.7,117.3 127.4,116.6 126.1,116.2 126.1,115.5 126.8,114.6 126.7,113.9 125.3,113.5 125.4,112.8 125.1,112.1 126.1,111.1 125.2,110.7 125.3,109.9 124.4,109.4 124.0,108.8 123.8,108.1 124.1,107.3 123.4,106.7 123.8,105.9 123.3,105.3 123.6,104.5 123.3,103.9 123.0,103.2 123.3,102.4 122.8,101.8 123.6,100.9 122.1,100.5 123.2,99.5 122.7,98.9 122.3,98.3 122.2,97.6 122.0,96.8 121.5,96.2 121.8,95.4 121.1,94.8 120.2,94.3 120.1,93.6 120.6,92.7 121.2,91.9 119.7,91.4 120.9,90.5 120.3,89.9 119.3,89.3 120.3,88.4 119.2,87.9 119.9,87.1 120.4,86.2 119.2,85.8 120.1,84.9 118.9,84.4 120.0,83.5 118.7,83.0 119.4,82.2 117.9,81.8 118.0,81.0 118.6,80.2 117.7,79.7 117.4,79.1 118.7,78.1 116.9,77.9 118.2,76.9 116.7,76.7 117.0,75.9 116.3,75.6 116.0,75.0 115.8,74.4 116.1,73.5 116.0,72.8 115.2,72.5 114.9,71.9 114.8,71.1 113.9,70.9 114.3,69.8 113.2,69.7 112.6,69.3 113.2,68.0 111.9,68.0 112.4,66.8"/>
</g>
<g id="p2" fill="#0a0a0a">
<line x1="272.2" y1="40.9" x2="272.2" y2="206.3" stroke="#111" stroke-width="1.15"/><polygon points="269.3,42.5 275.09999999999997,42.5 272.2,36.9" fill="#111"/>
<polygon points="276.3,175.3 277.0,173.5 277.8,174.1 278.5,173.3 279.2,175.6 280.0,172.9 280.7,172.9 281.5,172.6 282.2,175.0 282.9,175.0 283.7,173.0 284.4,174.0 285.1,174.9 285.9,172.7 286.6,174.9 287.3,173.5 288.1,171.5 288.8,174.5 289.5,170.9 290.3,174.0 291.0,174.0 291.8,174.4 292.5,173.7 293.2,174.5 294.0,173.0 294.7,174.2 295.4,174.9 296.2,174.2 296.9,172.7 297.6,173.6 298.4,175.3 299.1,174.3 299.8,174.1 300.6,175.6 301.3,172.6 302.1,172.7 302.8,175.3 303.5,173.9 304.3,174.6 305.0,175.0 305.0,181.7 304.3,184.4 303.5,181.9 302.8,184.2 302.1,182.7 301.3,183.8 300.6,184.5 299.8,183.8 299.1,184.1 298.4,182.5 297.6,184.7 296.9,182.4 296.2,182.8 295.4,182.5 294.7,183.9 294.0,182.0 293.2,182.4 292.5,182.1 291.8,182.3 291.0,183.8 290.3,182.4 289.5,183.1 288.8,182.1 288.1,184.5 287.3,184.6 286.6,183.6 285.9,182.2 285.1,184.7 284.4,182.7 283.7,182.7 282.9,184.6 282.2,182.1 281.5,182.1 280.7,181.6 280.0,183.1 279.2,184.5 278.5,183.0 277.8,184.8 277.0,182.1 276.3,183.2"/>
<path d="M304.6,181 L306.4,200 L308.2,181" stroke="#0a0a0a" stroke-width="1.8" fill="none" stroke-linejoin="miter"/>
<polygon points="307.2,182.0 307.2,181.3 307.4,180.6 307.5,179.9 307.6,179.2 307.5,178.5 307.6,177.8 307.8,177.1 307.8,176.4 307.9,175.7 307.7,175.0 308.0,174.3 307.9,173.6 307.9,172.9 308.2,172.2 308.0,171.5 308.2,170.8 308.2,170.1 308.3,169.4 308.2,168.7 308.3,168.0 308.4,167.3 308.3,166.6 308.5,165.9 308.7,165.2 308.4,164.5 308.6,163.8 308.6,163.1 308.7,162.4 309.0,161.7 308.9,161.0 309.0,160.3 308.9,159.6 308.8,158.8 308.9,158.2 308.9,157.4 309.2,156.8 309.4,156.1 309.2,155.4 309.4,154.7 309.4,154.0 309.5,153.3 309.6,152.6 309.4,151.8 309.4,151.1 309.4,150.4 309.3,149.7 309.8,149.0 309.5,148.3 309.6,147.6 309.7,146.9 309.6,146.2 309.8,145.5 310.2,144.8 310.2,144.1 310.1,143.4 309.9,142.7 310.0,142.0 309.7,141.3 310.5,140.6 310.4,139.9 310.2,139.2 310.2,138.5 310.4,137.8 310.6,137.1 310.6,136.4 310.3,135.7 310.4,135.0 310.8,134.3 310.4,133.6 311.1,132.9 311.1,132.2 311.0,131.5 310.7,130.8 311.0,130.1 311.0,129.4 310.8,128.7 311.4,128.0 311.6,127.3 311.5,126.6 311.4,125.9 311.9,125.2 312.0,124.6 311.5,123.8 311.3,123.1 311.5,122.4 312.0,121.7 312.0,121.0 311.8,120.3 311.7,119.6 312.3,118.9 311.8,118.2 312.1,117.5 312.8,116.9 312.5,116.1 313.1,115.5 312.4,114.7 312.7,114.0 312.4,113.3 313.0,112.6 312.7,111.9 312.8,111.2 313.0,110.5 313.0,109.8 313.3,109.1 313.1,108.4 313.4,107.7 312.9,107.0 314.1,106.4 313.1,105.6 313.4,104.9 314.6,104.4 313.7,103.5 314.3,102.9 314.2,102.2 314.3,101.5 314.0,100.7 314.5,100.1 314.4,99.4 315.2,98.7 315.5,98.1 313.8,97.2 314.0,96.5 315.7,95.9 314.2,95.1 315.2,94.5 314.7,93.8 315.5,93.1 314.7,92.3 315.3,91.7 313.4,90.8 315.7,90.3 315.7,89.6 315.1,88.8 316.3,88.3 314.4,87.3 315.3,86.7 314.5,85.9 316.5,85.5 315.3,84.6 316.7,84.1 317.1,83.4 316.3,82.6 316.4,81.9 316.3,81.2 316.6,80.5 317.5,80.0 316.4,79.0 317.7,78.6 317.8,77.9 316.6,76.8 317.0,76.2 315.4,75.0 315.1,74.2 317.1,74.0 319.3,74.0 317.0,72.5 318.7,72.3 318.7,71.6 320.0,71.3 318.5,70.0 319.1,69.5 321.6,69.6 319.3,68.1 320.9,67.9 319.9,66.8 320.0,66.0 320.7,65.5 321.8,65.2 321.4,64.3 322.5,64.0 321.5,62.7 321.9,62.1 323.0,61.9 322.6,60.8 323.6,60.6 323.0,59.3 322.9,58.3 323.6,57.8 324.3,57.5 326.3,58.1 324.8,55.9 326.6,56.5 328.4,57.3 327.7,55.6 327.2,53.9 328.3,54.1 328.4,53.0 331.5,55.9 329.2,51.4 330.0,51.2 331.9,52.7 331.3,50.3 334.0,53.5 334.1,52.3 335.2,53.0 334.5,50.1 334.6,48.4 334.8,47.1 337.8,52.4 336.0,45.8 338.1,49.3 339.4,50.9 338.8,46.9 339.3,46.3 341.7,51.3 341.8,49.2 341.9,47.2 342.3,46.0 344.1,49.5 344.1,47.1 345.6,49.8 344.9,44.8 347.0,49.9 346.2,44.1 347.5,46.3 348.0,45.0 348.8,45.4 349.6,45.8 350.5,46.3 351.5,47.5 352.1,46.9 353.0,47.8 353.4,46.7 353.7,44.3 354.5,44.7 355.2,44.5 355.9,44.7 356.4,42.1 357.2,42.6 358.1,46.1 358.7,44.3 359.4,41.8 360.2,46.0 360.8,43.4 361.6,43.7 362.3,43.5 363.0,44.2 363.7,43.1 364.4,45.3 365.0,41.9 365.8,44.1 366.5,45.4 367.2,43.6 367.9,43.3 368.6,41.9 369.3,42.8 370.0,44.3 370.7,45.3 371.4,44.9 372.1,45.7 372.8,43.7 373.5,40.6 374.2,43.9 374.9,46.2 375.6,45.6 376.3,42.1 377.1,45.6 377.7,43.3 378.4,41.7 379.1,41.8 379.9,44.1 380.6,39.9 381.3,45.0 382.0,41.7 382.7,43.3 383.4,46.9 384.1,41.7 384.8,46.4 385.5,41.4 386.2,47.1 386.9,42.8 387.6,44.9 388.3,42.7 389.0,45.1 389.7,42.1 390.4,45.7 391.1,43.1 391.8,41.7 392.5,47.0 393.2,43.1 393.9,46.9 394.6,42.7 395.3,42.3 396.0,46.6 396.8,42.1 397.4,44.8 398.1,45.6 398.9,41.7 399.5,45.2 400.2,46.2 400.9,45.6 401.8,42.2 402.6,41.7 403.1,44.0 403.8,44.8 404.5,44.2 405.4,42.8 405.5,47.9 406.8,43.3 407.7,42.3 407.9,45.8 408.6,45.7 409.9,42.8 410.0,46.2 410.6,46.5 412.0,43.9 412.1,46.3 413.1,45.5 413.2,47.7 414.5,45.7 414.7,47.6 416.0,45.5 416.2,47.3 417.9,44.4 418.2,45.8 418.9,46.1 418.8,48.5 419.9,47.5 419.8,49.8 421.9,46.2 421.9,48.3 421.9,50.2 423.0,49.4 424.3,47.8 423.7,51.6 424.9,50.4 426.1,49.0 426.1,51.2 426.0,53.4 427.5,51.3 428.1,51.8 429.6,49.9 429.8,51.4 431.2,49.7 430.5,53.3 432.1,51.2 432.7,51.7 432.0,55.3 433.7,53.0 434.8,52.2 434.9,53.6 436.2,52.5 436.0,54.8 437.8,52.4 437.5,54.8 437.5,56.6 439.1,54.8 439.1,56.6 440.1,55.9 441.0,55.7 441.5,56.2 441.0,59.0 441.6,59.5 443.6,56.6 444.0,57.6 443.7,59.9 444.3,60.3 445.6,59.1 445.7,60.6 447.7,57.9 447.1,61.0 449.0,58.3 449.2,59.5 449.6,60.5 450.5,60.2 451.1,60.4 451.1,62.4 452.1,61.8 452.8,61.9 453.3,73.8 452.2,74.5 451.0,75.2 450.8,74.2 450.5,72.9 449.2,74.4 448.6,73.8 447.6,74.6 447.9,71.8 446.7,73.0 446.4,71.8 445.3,72.7 444.3,73.6 444.6,70.5 443.6,71.2 443.3,69.9 442.7,69.5 441.6,70.4 440.0,73.2 439.7,71.9 439.1,71.5 439.1,68.8 438.0,70.1 437.1,70.8 436.8,69.3 436.4,68.0 434.8,71.9 434.8,68.4 434.0,68.8 433.6,67.2 432.4,70.0 432.1,67.2 430.9,70.5 430.8,66.9 430.1,66.5 429.2,67.9 428.0,70.7 427.8,67.3 426.9,68.5 426.0,69.8 425.2,70.6 425.1,66.3 424.2,67.9 423.4,68.5 423.1,65.4 422.3,66.5 421.4,67.4 420.5,68.8 420.0,67.6 419.2,68.0 418.5,67.6 417.9,67.3 417.4,65.6 416.7,65.4 415.7,67.6 415.3,65.7 414.6,65.6 413.9,65.5 413.3,64.8 412.4,65.5 411.8,65.2 410.8,66.8 410.1,67.1 409.9,63.5 408.6,67.4 408.0,66.5 407.8,63.0 406.2,70.7 406.3,63.5 405.5,64.2 404.6,66.2 404.1,64.3 403.2,67.9 402.6,66.9 402.0,63.7 401.3,63.2 400.6,63.2 399.8,65.6 399.2,63.2 398.4,64.7 397.8,62.9 397.0,65.5 396.2,65.8 395.7,62.3 394.9,64.1 394.3,62.5 393.5,64.2 392.8,64.5 392.0,65.6 391.5,62.4 390.6,65.8 390.1,62.1 389.3,63.4 388.5,64.5 387.7,66.0 387.3,62.8 386.4,65.4 385.9,61.9 385.1,63.5 384.4,63.6 383.8,61.5 383.0,62.3 382.3,63.5 381.7,61.4 380.7,65.2 380.3,61.8 379.4,64.5 378.7,63.5 378.1,62.4 377.3,63.6 376.6,64.3 375.9,63.4 375.3,62.2 374.6,64.1 373.9,65.4 373.2,65.4 372.5,64.8 371.9,65.1 371.1,64.1 370.4,63.8 369.5,62.0 368.9,63.2 368.2,63.0 367.7,64.2 366.6,61.6 366.3,64.3 365.6,64.4 364.6,62.7 364.5,66.4 363.5,64.8 363.1,66.2 362.1,65.0 361.1,63.7 360.8,65.4 360.1,65.5 359.4,65.6 359.1,67.8 357.3,63.4 357.6,67.3 356.8,67.2 356.2,67.8 355.3,67.0 354.7,67.4 354.0,67.6 352.3,64.6 352.3,66.8 352.2,68.4 351.2,67.7 351.0,68.9 350.9,70.2 350.1,70.0 348.1,67.9 347.9,68.9 346.0,67.5 347.5,71.0 345.6,69.4 345.1,69.9 345.5,71.7 344.9,72.1 344.3,72.5 342.1,70.6 343.0,73.0 343.2,74.4 341.9,74.0 342.8,76.2 340.8,74.8 339.3,74.1 339.0,74.7 338.5,75.3 339.9,78.2 337.3,76.0 339.3,79.6 335.5,76.1 337.3,79.3 335.3,78.0 334.0,77.6 334.8,79.7 335.7,81.8 334.6,81.6 334.8,82.8 332.8,81.7 330.7,80.4 332.0,82.8 329.7,81.5 331.1,83.8 331.4,84.9 329.4,84.1 328.5,84.4 327.6,84.8 329.2,86.5 329.8,87.5 327.0,86.9 329.2,88.8 326.4,88.2 326.9,89.2 327.4,90.2 325.1,90.0 325.3,90.8 326.7,92.2 324.9,92.2 325.0,93.0 325.6,94.0 324.8,94.4 324.8,95.2 323.2,95.3 322.6,95.8 323.4,96.9 323.4,97.7 322.7,98.1 321.8,98.5 321.8,99.3 322.2,100.2 322.3,101.0 320.6,101.1 321.6,102.2 321.8,103.1 320.9,103.5 321.2,104.3 319.6,104.6 321.1,105.7 320.1,106.2 320.3,107.0 319.4,107.5 320.0,108.3 321.1,109.2 319.9,109.7 318.9,110.3 319.6,111.1 319.1,111.7 319.3,112.5 318.8,113.1 319.1,113.9 318.8,114.5 318.4,115.2 317.9,115.8 318.4,116.6 318.3,117.3 318.0,118.0 319.0,118.8 318.2,119.4 318.2,120.1 318.6,120.9 317.5,121.4 317.1,122.1 317.3,122.9 318.2,123.7 317.2,124.3 317.4,125.0 317.0,125.7 317.2,126.4 316.2,126.9 317.0,127.8 316.0,128.3 317.0,129.2 315.9,129.7 315.8,130.4 315.6,131.1 316.0,131.9 315.9,132.6 315.4,133.2 315.0,133.9 315.3,134.6 315.0,135.3 314.8,136.0 315.2,136.8 315.1,137.5 314.5,138.1 314.4,138.8 314.8,139.6 314.2,140.2 314.3,140.9 313.9,141.5 313.7,142.2 313.9,143.0 313.5,143.6 313.7,144.4 313.8,145.1 313.7,145.8 312.9,146.4 312.8,147.0 312.6,147.7 312.6,148.5 312.7,149.2 312.3,149.8 312.9,150.7 312.4,151.3 312.1,151.9 312.2,152.7 311.7,153.3 311.5,154.0 311.7,154.7 311.3,155.4 311.5,156.1 311.4,156.8 311.1,157.5 311.1,158.2 310.9,158.9 311.1,159.6 310.8,160.3 310.8,161.0 310.8,161.7 310.5,162.4 310.7,163.1 310.2,163.8 310.1,164.5 310.1,165.2 310.2,165.9 310.1,166.6 310.0,167.3 310.1,168.0 309.8,168.7 310.0,169.4 309.7,170.1 309.7,170.8 309.8,171.5 309.7,172.2 309.4,172.9 309.4,173.6 309.6,174.3 309.5,175.0 309.4,175.7 309.2,176.4 309.3,177.1 309.3,177.8 308.9,178.5 309.0,179.2 308.8,179.9 308.9,180.6 309.0,181.3 308.7,182.0"/>
<polygon points="372.7,59.0 372.5,59.9 372.8,60.6 372.0,61.9 373.3,62.0 373.0,63.0 373.9,63.2 374.3,63.8 374.8,64.4 374.9,65.1 376.3,65.1 376.0,66.1 377.4,66.1 377.1,67.1 376.5,68.3 377.3,68.7 378.8,68.5 378.1,69.9 379.5,69.8 379.6,70.6 379.0,71.8 379.2,72.5 379.4,73.2 380.5,73.3 381.4,73.6 382.0,74.1 382.8,74.5 381.1,76.4 383.2,75.9 382.2,77.3 384.4,76.8 383.0,78.5 385.0,78.1 384.2,79.4 384.4,80.2 384.2,81.1 385.0,81.4 385.7,81.8 387.4,81.7 387.8,82.2 386.2,84.0 387.8,83.9 386.9,85.2 387.4,85.7 388.9,85.6 389.1,86.3 390.3,86.4 390.7,87.0 389.9,88.3 390.9,88.6 391.6,88.9 391.9,89.5 391.8,90.4 392.1,91.1 392.6,91.6 392.6,92.4 393.4,92.8 394.5,92.9 393.6,94.2 394.2,94.7 394.6,95.3 395.9,95.3 394.9,96.7 395.8,97.0 396.8,97.2 396.4,98.3 397.8,98.2 397.5,99.2 396.9,100.4 397.9,100.6 397.8,101.5 398.8,101.7 399.1,102.4 399.4,103.0 400.8,102.9 401.3,103.3 401.4,104.1 401.8,104.6 402.4,105.0 402.9,105.5 401.7,107.2 403.6,106.6 402.5,108.3 403.4,108.4 404.6,108.4 403.7,110.0 405.8,109.2 406.1,109.8 405.3,111.4 406.4,111.4 407.4,111.5 407.0,112.6 407.4,113.2 408.0,113.7 408.3,114.3 408.8,114.8 409.5,115.2 410.5,115.3 409.1,117.2 409.9,117.6 409.8,118.5 410.4,118.9 411.1,119.3 413.0,118.7 412.2,120.2 413.2,120.2 413.0,121.2 414.8,120.7 413.7,122.5 414.5,122.7 414.9,123.3 415.4,123.7 415.2,124.8 416.2,124.8 416.3,125.7 416.4,126.5 418.5,125.5 417.9,127.0 417.7,128.1 419.3,127.6 419.5,128.3 420.4,128.5 420.2,129.6 420.2,130.5 421.7,130.1 421.7,131.0 423.0,130.7 422.5,132.2 422.7,132.9 423.1,133.5 423.7,133.9 424.9,133.7 425.2,134.4 425.3,135.1 426.9,134.4 426.0,136.3 427.7,135.3 427.1,137.0 427.8,137.1 429.1,136.5 429.3,137.3 430.0,137.3 429.9,138.4 430.0,139.4 431.0,138.9 431.5,139.2 431.1,141.0 431.7,141.2 433.3,139.5 433.5,140.3 434.2,140.3 434.0,142.1 435.5,140.5 435.4,142.4 435.9,143.1 436.7,142.8 437.3,143.1 437.7,144.1 439.1,142.5 439.7,142.7 439.7,144.6 440.7,144.0 441.6,143.5 441.8,144.9 442.6,144.8 443.0,145.7 443.8,145.4 444.3,146.1 445.4,145.0 445.5,146.9 446.0,147.4 447.4,145.5 447.4,147.6 448.4,146.9 449.2,146.7 449.5,147.8 450.7,146.6 450.9,148.2 451.4,148.8 452.0,149.3 453.7,146.2 453.4,149.4 454.5,147.8 452.0,156.7 450.5,159.3 450.4,156.8 449.9,156.0 449.3,155.6 448.0,157.4 447.2,157.3 446.8,156.2 446.2,155.9 445.9,154.4 444.8,155.5 444.1,155.2 443.1,156.1 442.5,155.5 441.8,155.3 441.4,154.4 441.2,152.9 439.9,154.3 439.1,154.3 438.4,154.0 437.9,153.3 437.2,153.0 436.4,153.3 436.3,151.4 435.7,151.0 434.5,152.0 433.8,151.7 432.7,152.5 432.1,152.1 431.5,151.6 431.5,149.6 430.9,149.3 430.0,149.3 429.4,148.6 428.6,148.4 427.5,148.8 426.5,148.9 426.6,147.1 425.2,147.9 424.2,147.9 423.7,147.1 422.8,147.0 422.2,146.4 421.5,146.0 421.7,144.4 421.0,144.1 419.5,144.5 419.1,143.7 418.9,142.8 418.3,142.3 417.7,141.8 418.0,140.4 417.6,139.8 415.7,140.6 416.0,139.3 415.5,138.8 414.1,139.1 413.4,138.8 413.9,137.3 413.9,136.3 412.0,137.1 412.0,136.1 412.1,135.1 411.3,134.8 410.1,134.9 411.1,133.0 409.6,133.4 410.3,131.9 409.0,132.0 408.6,131.4 407.7,131.2 407.8,130.2 407.0,129.9 406.4,129.4 406.2,128.7 406.5,127.5 406.0,127.0 403.8,127.9 403.3,127.3 404.6,125.4 403.3,125.5 403.3,124.5 402.2,124.4 402.0,123.7 400.9,123.7 400.7,123.0 400.3,122.4 400.1,121.7 399.4,121.3 400.0,119.9 398.5,120.2 399.3,118.6 398.2,118.6 398.4,117.6 397.3,117.5 397.4,116.5 395.4,117.1 396.0,115.8 394.9,115.7 394.5,115.1 393.5,114.8 393.2,114.2 391.7,114.4 393.3,112.3 393.6,111.2 392.5,111.1 392.7,110.0 391.4,110.0 391.5,109.1 391.1,108.4 389.4,108.7 390.4,107.2 389.5,106.9 388.1,107.0 387.8,106.3 387.9,105.4 387.1,105.1 388.4,103.4 386.3,103.9 387.6,102.2 385.8,102.5 385.3,102.0 384.9,101.4 385.7,100.0 385.9,99.1 384.1,99.4 385.3,97.8 384.4,97.5 383.7,97.1 382.3,97.1 382.2,96.4 381.9,95.7 382.0,94.8 380.7,94.7 382.2,93.0 381.1,92.9 379.8,92.8 381.2,91.1 379.6,91.3 380.4,90.0 378.9,90.0 378.9,89.2 378.5,88.6 377.2,88.5 378.9,86.7 377.0,87.0 376.7,86.4 376.1,86.0 375.6,85.4 375.7,84.6 376.3,83.3 375.3,83.1 376.1,81.8 375.2,81.6 375.4,80.6 374.8,80.2 374.3,79.6 373.7,79.2 373.0,78.8 373.7,77.6 371.5,78.1 372.8,76.5 371.3,76.6 370.2,76.4 371.7,74.6 371.6,73.9 369.3,74.5 368.8,74.0 369.2,72.9 368.4,72.6 368.0,72.0 367.6,71.5 367.5,70.7 366.6,70.4 366.4,69.7 366.5,68.9 366.6,67.9 367.0,66.9 365.9,66.7 364.3,66.9 364.8,65.7 364.6,65.1 364.0,64.6"/>
<polygon points="364.5,61.0 365.4,61.4 365.6,62.1 366.6,62.4 365.6,63.6 366.5,64.0 366.6,64.8 366.3,65.6 366.4,66.3 366.9,66.9 367.6,67.4 368.1,68.0 368.8,68.5 369.4,69.0 367.8,70.3 370.1,70.3 369.2,71.3 370.1,71.7 369.4,72.8 370.5,73.1 370.7,73.8 369.4,75.0 371.6,75.0 370.0,76.4 371.2,76.7 370.9,77.6 371.9,78.0 371.2,79.0 372.4,79.4 373.0,79.9 372.9,80.7 373.6,81.2 372.8,82.2 373.7,82.7 373.4,83.5 374.7,83.8 373.1,85.0 375.1,85.1 373.4,86.4 375.5,86.3 374.1,87.6 375.7,87.7 374.6,88.8 376.4,88.8 375.4,89.9 375.4,90.7 377.5,90.5 377.1,91.4 378.0,91.7 378.2,92.4 377.0,93.7 377.4,94.4 379.0,94.3 379.6,94.8 378.5,96.1 380.4,96.0 378.9,97.5 380.8,97.3 380.9,98.1 380.7,99.0 381.0,99.6 381.6,100.1 381.9,100.8 382.3,101.4 381.9,102.4 381.9,103.2 383.3,103.3 382.9,104.3 383.0,105.0 383.8,105.4 383.8,106.2 385.6,106.1 384.7,107.3 385.8,107.6 384.7,108.9 386.4,108.9 387.4,109.2 387.3,110.0 387.6,110.6 387.2,111.6 387.6,112.2 388.8,112.4 387.7,113.7 388.6,114.1 389.4,114.5 388.9,115.5 390.8,115.4 388.8,117.1 390.5,117.1 389.7,118.2 390.2,118.8 390.4,119.5 391.8,119.6 391.4,120.6 393.1,120.5 392.9,121.4 393.5,121.9 393.2,122.8 392.6,123.9 393.9,124.1 393.4,125.1 393.4,125.9 394.3,126.2 395.3,126.5 395.0,127.5 394.5,128.5 396.1,128.5 396.9,128.9 396.1,130.1 395.7,131.0 397.2,131.1 397.1,131.9 398.0,132.3 397.9,133.1 398.8,133.5 397.2,135.0 398.9,135.0 399.1,135.7 399.8,136.1 398.8,137.3 399.9,137.6 399.5,138.6 401.1,138.6 399.7,140.0 400.2,140.6 402.2,140.4 402.1,141.3 401.3,142.4 401.8,143.0 402.3,143.5 402.2,144.3 403.5,144.5 404.4,144.9 403.0,146.3 404.5,146.4 404.7,147.0 405.1,147.6 404.5,148.7 404.6,149.4 405.7,149.7 406.9,149.9 405.8,151.2 405.8,152.0 406.7,152.3 406.3,153.3 407.0,153.8 408.1,154.0 407.3,155.2 408.1,155.6 408.8,155.9 408.0,156.9 408.2,157.3 410.1,156.7 410.2,157.2 410.6,157.6 410.4,158.5 410.7,159.0 410.4,160.1 411.1,160.3 411.3,161.0 412.5,160.6 412.7,161.2 412.8,162.0 413.2,162.5 414.3,161.9 414.3,163.1 414.6,163.7 415.4,163.5 416.6,162.6 417.1,163.2 417.5,163.8 417.8,164.7 418.6,164.5 418.7,165.8 419.6,165.3 420.3,165.2 420.6,166.3 421.6,165.4 422.3,164.9 422.3,167.0 423.0,166.9 423.8,166.3 424.7,165.5 424.9,167.6 425.8,166.5 426.3,167.3 427.0,167.2 427.8,166.1 428.4,166.9 428.9,167.8 429.6,167.5 430.4,166.3 431.0,166.6 431.5,167.7 432.2,167.4 432.9,167.8 433.5,168.6 434.4,166.7 434.9,168.5 435.6,168.6 436.3,168.9 437.1,166.9 437.8,167.0 438.5,166.5 439.1,168.0 439.8,168.0 440.5,168.5 441.2,167.3 441.9,168.1 442.6,167.4 443.2,167.8 443.9,167.9 444.6,167.9 445.3,167.7 446.0,167.6 446.7,167.6 447.3,167.8 448.0,168.9 448.7,169.1 449.4,167.5 450.1,168.3 450.8,169.5 451.4,168.0 452.1,167.4 452.8,167.2 453.2,177.9 452.4,176.3 451.7,177.6 451.0,178.2 450.3,177.8 449.5,177.1 448.8,176.0 448.1,176.2 447.3,177.3 446.6,177.8 445.9,176.3 445.1,177.6 444.4,177.1 443.7,176.4 443.0,176.0 442.2,177.7 441.5,176.8 440.8,178.1 440.1,177.2 439.4,177.2 438.6,177.9 437.9,177.9 437.1,178.6 436.5,176.3 435.7,177.8 435.0,176.9 434.3,176.8 433.6,176.3 432.9,176.5 432.1,177.1 431.4,177.5 430.6,177.0 429.9,177.0 429.3,175.2 428.6,175.1 427.8,175.0 427.0,175.8 426.4,174.5 425.5,175.4 424.9,174.6 424.1,174.5 423.3,174.9 422.6,174.6 422.0,173.9 421.2,173.9 420.4,173.7 419.2,174.9 419.0,172.9 417.9,173.5 416.9,173.8 416.4,173.0 415.4,173.3 414.9,172.6 414.7,171.1 413.4,172.0 412.5,172.1 412.1,171.3 411.0,171.5 410.5,170.7 410.7,168.8 410.0,168.4 408.1,169.8 408.6,167.6 407.0,168.3 406.0,168.2 405.6,167.3 405.7,166.0 405.6,165.0 403.7,165.6 404.6,163.7 403.3,163.6 402.2,163.4 401.6,162.7 400.9,162.1 401.4,160.7 400.6,160.1 400.6,159.2 399.8,158.7 400.3,157.7 398.9,157.6 399.5,156.5 398.2,156.4 399.0,155.2 399.2,154.4 398.2,154.1 396.6,154.0 396.9,153.1 397.3,152.1 396.5,151.7 396.1,151.1 395.4,150.7 396.5,149.4 396.2,148.7 394.9,148.5 395.5,147.5 394.0,147.4 394.6,146.3 393.7,146.0 394.0,145.1 394.3,144.1 392.1,144.4 392.0,143.7 391.9,142.9 392.7,141.8 392.5,141.1 390.8,141.1 391.8,139.9 391.6,139.2 389.8,139.3 390.7,138.0 391.0,137.1 390.6,136.6 389.4,136.3 388.6,135.9 388.1,135.4 389.5,134.0 389.2,133.3 387.1,133.5 387.5,132.6 386.5,132.3 387.0,131.2 386.3,130.8 385.3,130.4 386.3,129.2 386.1,128.5 386.3,127.7 385.5,127.2 384.5,126.9 383.7,126.5 384.8,125.2 384.1,124.8 382.9,124.6 382.7,123.9 383.2,122.8 382.5,122.4 382.1,121.8 382.3,121.0 380.9,120.8 382.1,119.5 380.5,119.4 380.4,118.7 381.3,117.5 381.5,116.7 381.0,116.1 379.2,116.2 380.0,115.0 380.2,114.1 379.6,113.6 378.6,113.3 378.9,112.4 377.8,112.1 377.2,111.6 377.2,110.9 376.5,110.4 376.0,109.9 377.2,108.5 376.9,107.9 375.2,107.9 375.3,107.1 375.2,106.4 374.8,105.8 374.4,105.2 374.3,104.5 374.9,103.5 374.5,102.9 374.5,102.1 373.6,101.7 372.7,101.4 373.4,100.3 373.5,99.4 371.4,99.7 371.6,98.8 369.4,99.1 371.1,97.4 372.2,96.1 371.1,95.8 369.9,95.6 370.9,94.4 369.8,94.0 370.6,92.9 369.1,92.8 368.2,92.4 369.5,91.0 369.4,90.2 368.3,89.8 367.3,89.4 367.8,88.4 366.7,88.0 366.7,87.2 367.3,86.3 365.8,86.0 367.1,84.8 365.6,84.5 365.9,83.7 365.0,83.2 366.4,82.0 365.7,81.5 364.6,81.2 364.7,80.4 364.8,79.7 364.5,79.0 363.7,78.6 364.9,77.4 363.9,77.1 363.8,76.4 363.1,75.9 363.8,74.9 363.4,74.3 362.6,73.8 363.3,72.8 361.5,72.8 361.4,72.0 361.3,71.3 360.6,70.9 361.7,69.7 362.3,68.7 361.7,68.2 361.6,67.5 360.2,67.3 360.3,66.5 360.6,65.6 360.6,64.8 360.1,64.3 358.4,64.2 359.8,62.9"/>
<polygon points="359.2,61.6 359.3,62.3 359.5,63.0 360.0,63.6 360.4,64.2 360.5,64.9 360.1,65.8 360.5,66.4 361.1,66.9 361.5,67.6 361.8,68.2 361.4,69.1 361.7,69.7 361.5,70.5 362.2,71.1 362.1,71.8 362.6,72.4 362.8,73.1 362.5,73.9 362.6,74.6 363.5,75.1 363.7,75.8 364.1,76.4 363.7,77.3 363.4,78.1 363.6,78.7 364.8,79.2 364.6,79.9 364.1,80.8 364.6,81.4 364.5,82.1 365.3,82.7 365.4,83.4 365.8,84.0 365.7,84.8 365.5,85.5 366.3,86.1 365.8,86.9 366.4,87.5 365.9,88.3 366.1,89.0 366.7,89.6 366.5,90.4 367.3,90.9 367.0,91.7 367.7,92.3 367.4,93.0 367.5,93.7 367.6,94.4 367.4,95.2 367.7,95.9 368.5,96.4 368.4,97.1 368.7,97.8 368.4,98.6 368.3,99.3 369.2,99.9 368.9,100.7 369.4,101.3 368.8,102.1 369.2,102.7 369.7,103.4 370.2,104.0 369.5,104.9 370.5,105.4 370.3,106.1 369.9,106.9 369.8,107.7 371.0,108.1 370.9,108.9 371.1,109.6 370.9,110.3 370.6,111.1 371.2,111.7 371.6,112.3 371.3,113.1 372.2,113.6 372.1,114.4 371.4,115.2 371.9,115.9 372.7,116.4 372.7,117.1 372.9,117.8 372.3,118.7 373.3,119.2 373.2,119.9 373.0,120.7 373.5,121.3 373.1,122.1 374.0,122.6 373.2,123.5 373.5,124.1 374.2,124.7 374.0,125.5 374.7,126.1 374.8,126.8 374.7,127.5 374.5,128.3 374.7,128.9 374.8,129.6 374.9,130.3 374.7,131.1 375.1,131.7 375.8,132.3 375.7,133.0 375.6,133.8 375.8,134.5 375.7,135.2 375.7,135.9 376.0,136.6 376.7,137.1 377.2,137.7 377.1,138.5 376.8,139.2 377.2,139.8 376.9,140.6 377.0,141.3 377.2,142.0 378.0,142.5 378.2,143.1 377.9,143.9 379.0,144.3 378.3,145.3 379.0,145.8 379.4,146.4 378.9,147.3 379.4,147.8 380.0,148.4 380.4,149.0 380.6,149.6 380.8,150.3 380.4,151.2 380.7,151.8 381.8,152.1 381.3,153.1 381.8,153.7 382.6,154.1 382.0,155.1 383.2,155.4 383.2,156.1 383.2,156.9 383.3,157.6 383.9,158.1 384.5,158.6 384.2,159.5 384.5,160.1 385.1,160.5 385.8,160.9 385.7,161.7 386.1,162.3 387.0,162.5 386.9,163.4 387.6,163.7 387.9,164.4 388.1,165.0 388.4,165.7 389.1,166.1 389.7,166.5 389.5,167.5 390.0,167.9 390.4,168.4 391.4,168.3 391.4,169.1 392.0,169.3 392.6,169.6 393.4,169.4 393.4,170.7 394.2,170.8 395.1,170.3 395.5,171.0 396.1,171.3 397.0,170.9 397.3,172.1 397.9,172.4 398.8,171.5 399.5,171.8 400.1,172.3 400.6,172.8 401.5,172.4 402.0,173.3 402.7,173.2 403.3,173.6 404.1,173.5 404.6,174.2 405.5,173.8 406.1,174.0 407.0,173.6 407.5,174.5 408.2,174.5 408.8,175.1 409.5,175.1 410.1,175.3 411.0,174.6 411.5,175.7 412.3,175.3 413.0,175.2 413.7,175.2 414.3,175.7 414.9,176.4 415.7,175.7 416.3,176.3 417.0,176.4 417.8,176.1 418.3,177.3 419.1,176.5 419.8,176.6 420.5,176.8 421.1,177.5 421.9,176.7 422.4,177.6 423.2,177.6 423.9,177.1 424.6,177.1 425.2,178.0 425.9,177.8 426.7,177.5 427.3,177.9 428.0,178.4 428.7,178.3 429.4,178.1 430.1,178.0 430.8,178.6 431.4,178.8 432.2,178.2 432.8,178.8 433.5,179.0 434.2,179.0 434.9,179.1 435.6,179.3 436.3,179.0 437.0,179.3 437.7,178.8 438.4,179.5 439.1,179.2 439.8,178.6 440.5,179.2 441.2,178.7 441.9,179.6 442.6,178.9 443.3,179.8 444.0,178.8 444.7,178.8 445.4,179.1 446.0,179.7 446.8,179.1 447.5,179.1 448.2,179.3 448.9,179.1 449.5,179.7 450.2,179.1 450.9,179.8 451.6,179.4 452.3,179.6 453.0,179.8 453.0,184.2 452.3,184.6 451.6,184.2 450.8,184.2 450.1,185.0 449.4,184.3 448.7,184.9 448.0,184.9 447.3,183.8 446.6,184.1 445.9,183.9 445.1,184.5 444.4,183.8 443.7,183.8 443.0,184.0 442.3,183.7 441.6,184.4 440.9,183.6 440.2,183.9 439.5,183.5 438.7,183.8 438.0,183.9 437.3,184.2 436.6,183.9 435.9,183.6 435.2,183.3 434.5,183.0 433.8,183.0 433.1,183.0 432.3,183.4 431.6,183.3 430.9,183.2 430.3,182.8 429.5,183.0 428.9,182.1 428.2,182.2 427.4,182.4 426.8,182.1 426.0,182.5 425.4,181.9 424.6,182.3 423.9,181.8 423.3,181.1 422.6,181.4 421.8,181.6 421.2,181.2 420.5,180.8 419.7,181.0 419.1,180.6 418.3,181.1 417.6,180.9 416.8,181.1 416.2,180.3 415.4,180.7 414.8,180.2 414.0,180.6 413.5,179.6 412.7,179.9 411.9,179.9 411.2,179.8 410.5,179.6 410.0,178.8 409.4,178.3 408.5,179.1 407.9,178.3 407.1,178.8 406.6,177.8 405.7,178.5 405.1,177.8 404.6,177.0 403.9,177.0 403.2,176.8 402.5,176.5 401.7,177.0 401.0,176.7 400.5,176.1 399.7,176.2 398.9,176.3 398.3,175.8 397.7,175.3 396.8,175.8 396.4,174.7 395.6,174.9 394.9,174.6 394.1,174.7 393.6,173.8 392.8,173.7 392.3,173.0 391.5,173.0 390.7,172.6 390.4,171.7 389.6,171.4 388.4,171.5 388.5,170.3 387.5,170.2 387.1,169.5 386.9,168.7 386.1,168.3 385.4,167.9 385.3,167.1 385.2,166.3 384.3,166.0 384.6,164.9 384.0,164.5 383.2,164.1 383.3,163.2 382.4,162.9 382.4,162.0 382.4,161.2 381.7,160.7 381.7,159.9 380.5,159.7 381.1,158.6 380.9,157.9 380.4,157.3 379.7,156.8 380.1,155.9 379.1,155.6 379.6,154.6 378.7,154.2 378.8,153.4 377.9,153.0 377.6,152.3 377.9,151.4 377.8,150.7 377.3,150.1 376.5,149.6 377.3,148.6 376.2,148.2 375.9,147.6 376.2,146.7 376.3,145.9 375.5,145.4 375.1,144.8 375.2,144.1 374.9,143.4 374.3,142.8 374.8,141.9 375.0,141.1 374.8,140.5 373.7,140.0 373.6,139.3 373.4,138.6 373.5,137.8 373.2,137.1 373.5,136.4 373.1,135.7 373.3,135.0 372.8,134.3 372.6,133.7 372.5,133.0 372.1,132.3 372.7,131.5 372.8,130.8 371.9,130.2 372.5,129.4 371.6,128.8 371.8,128.1 371.3,127.5 371.8,126.6 372.0,125.9 371.7,125.2 371.7,124.5 371.3,123.9 370.4,123.4 371.1,122.5 370.1,122.0 370.1,121.2 370.5,120.4 370.7,119.7 370.3,119.1 369.7,118.5 369.3,117.8 370.1,116.9 369.8,116.3 369.8,115.6 369.1,115.0 369.2,114.3 368.8,113.6 369.3,112.8 368.8,112.2 368.6,111.5 368.9,110.7 368.4,110.1 367.9,109.5 367.9,108.8 367.6,108.1 367.4,107.4 367.7,106.7 367.3,106.0 367.2,105.3 367.7,104.5 367.2,103.9 367.2,103.2 366.8,102.5 366.2,101.9 366.9,101.1 365.8,100.6 366.5,99.7 366.2,99.1 366.4,98.3 365.3,97.8 365.9,97.0 365.1,96.4 365.4,95.7 365.7,94.9 365.4,94.2 365.3,93.5 364.6,92.9 364.5,92.2 365.0,91.4 363.9,90.9 363.9,90.2 363.9,89.5 363.3,88.9 363.7,88.1 363.4,87.4 363.4,86.7 362.8,86.1 363.5,85.3 363.1,84.6 362.2,84.1 362.2,83.4 362.4,82.6 362.2,82.0 361.5,81.4 362.2,80.5 361.2,80.0 361.1,79.3 361.8,78.4 361.0,77.9 360.8,77.2 361.0,76.4 360.5,75.9 360.3,75.2 361.0,74.3 359.8,73.9 360.1,73.1 360.1,72.4 359.4,71.8 359.3,71.1 359.0,70.5 359.6,69.6 359.2,69.0 359.2,68.3 358.2,67.8 358.4,67.0 358.3,66.3 358.3,65.6 358.1,64.9 357.1,64.5 357.0,63.8 356.8,63.1 357.1,62.3"/>
</g>
<g id="p3" fill="#0a0a0a">
<line x1="24.5" y1="262.2" x2="24.5" y2="418.3" stroke="#111" stroke-width="1.15"/><polygon points="21.6,263.8 27.4,263.8 24.5,258.2" fill="#111"/>
<polygon points="26.5,390.6 27.1,389.1 28.0,389.6 28.7,389.3 29.5,389.6 30.3,390.0 31.1,389.4 31.7,390.2 32.5,390.2 33.0,390.8 34.1,390.3 34.4,391.3 35.3,391.3 35.7,392.3 36.6,392.0 37.2,392.6 37.9,393.1 38.7,393.0 39.4,393.5 39.5,397.9 38.7,397.6 37.9,397.9 37.1,397.8 36.5,398.9 35.7,398.9 34.9,398.7 34.3,399.5 33.3,398.9 32.8,400.1 31.8,399.3 31.1,399.5 30.3,400.1 29.5,400.4 28.8,399.2 28.0,399.8 27.1,400.2 26.3,400.2"/>
<path d="M39,396 C41,398 42.5,416.5 45.2,417 C47.5,416.5 48.3,395 49.8,372" stroke="#0a0a0a" stroke-width="1.7" fill="none"/>
<polygon points="49.1,385.0 49.2,384.3 49.1,383.6 49.1,382.9 49.2,382.2 49.3,381.5 49.2,380.8 49.3,380.1 49.5,379.4 49.6,378.7 49.6,378.0 49.6,377.3 49.6,376.6 49.6,375.9 49.9,375.2 49.8,374.5 50.1,373.8 50.1,373.1 50.1,372.4 50.3,371.7 50.1,371.0 50.2,370.3 50.1,369.6 50.2,368.9 50.5,368.2 50.4,367.5 50.5,366.8 50.3,366.1 50.4,365.4 50.7,364.7 50.4,364.0 50.5,363.3 50.6,362.6 51.0,361.9 51.1,361.2 50.5,360.4 50.5,359.7 51.1,359.1 51.0,358.3 51.0,357.6 51.2,357.0 51.5,356.3 51.4,355.6 50.8,354.8 51.3,354.1 51.6,353.5 51.8,352.8 51.3,352.0 51.2,351.3 51.2,350.6 51.3,349.9 52.1,349.3 52.0,348.6 51.6,347.8 52.2,347.2 51.9,346.4 51.9,345.7 52.5,345.1 51.6,344.3 51.8,343.6 51.8,342.9 52.0,342.2 52.5,341.5 52.0,340.8 52.2,340.1 52.2,339.4 52.1,338.7 52.8,338.0 52.0,337.3 52.7,336.6 52.9,335.9 52.7,335.2 52.1,334.5 52.6,333.8 53.5,333.2 53.1,332.4 52.8,331.7 52.4,330.9 53.1,330.3 53.1,329.6 54.0,329.0 53.9,328.2 52.9,327.5 53.8,326.8 53.4,326.1 53.2,325.4 53.4,324.7 53.2,324.0 53.5,323.3 54.1,322.6 53.7,321.9 53.5,321.2 54.7,320.5 53.1,319.7 53.8,319.1 53.2,318.3 53.5,317.6 55.1,317.0 55.0,316.3 53.6,315.5 54.8,314.9 53.6,314.1 53.5,313.4 53.1,312.7 54.3,312.1 54.7,311.4 53.8,310.6 54.4,309.9 55.6,309.3 54.3,308.5 55.2,307.9 55.7,307.2 55.3,306.5 54.2,305.7 54.6,305.0 55.5,304.4 53.4,303.5 55.2,302.9 55.1,302.2 56.4,301.7 55.1,300.8 56.3,300.2 55.7,299.5 56.5,298.8 55.6,298.0 57.1,297.5 56.7,296.7 55.8,295.9 55.3,295.2 54.9,294.4 57.0,294.0 56.8,293.2 56.6,292.5 55.5,291.6 57.7,291.2 56.1,290.3 58.1,289.8 56.1,288.9 58.3,288.5 57.6,287.7 57.8,287.0 56.5,286.0 58.2,285.6 55.0,284.4 56.3,283.9 57.2,283.3 59.6,283.0 57.7,282.0 57.3,281.2 58.7,280.7 58.5,280.0 57.5,279.1 58.1,278.4 58.9,277.9 59.8,277.3 59.9,276.6 60.7,276.1 61.1,275.5 60.0,274.5 58.1,273.3 61.5,273.6 60.2,272.4 60.1,271.5 59.3,270.0 59.8,269.0 61.5,269.4 62.3,269.2 62.7,268.3 63.9,269.1 64.0,267.4 64.6,266.8 66.3,269.3 66.4,267.7 67.4,268.4 68.4,269.1 68.6,267.5 69.0,266.4 69.8,266.6 70.7,267.1 71.1,266.0 71.8,266.1 72.9,267.1 72.7,264.1 73.5,264.1 74.6,265.5 75.1,264.4 76.2,266.2 76.4,263.7 77.4,264.9 77.9,263.9 78.6,263.7 79.5,264.8 80.3,266.0 80.5,259.9 81.4,262.6 82.1,262.7 83.0,264.8 83.5,262.4 84.3,262.8 85.1,265.1 85.7,262.4 86.5,264.8 87.0,259.7 88.0,265.8 88.5,261.6 89.3,264.5 89.9,261.7 90.7,265.0 91.4,264.4 92.1,265.0 92.8,263.3 93.5,264.9 94.2,262.8 94.9,262.7 95.6,262.3 96.3,263.8 97.0,263.9 97.8,264.8 98.4,263.6 99.1,263.4 99.9,264.6 100.5,263.2 101.3,265.1 101.9,262.4 102.7,264.3 103.3,263.2 104.0,262.0 104.8,265.7 105.5,263.6 106.2,265.3 106.9,264.0 107.5,262.1 108.2,262.5 108.9,262.1 109.6,259.2 110.4,264.0 111.1,263.8 111.8,264.7 112.5,262.8 113.2,262.5 113.8,259.8 114.6,262.0 115.3,262.9 116.0,265.3 116.7,262.3 117.4,261.3 118.1,261.2 118.8,265.4 119.5,263.7 120.2,263.1 120.9,262.4 121.6,261.5 122.3,265.4 123.0,261.0 123.7,263.3 124.4,260.7 125.1,261.6 125.8,261.7 126.5,260.8 127.3,263.2 128.0,265.0 128.7,264.5 129.4,262.8 130.1,261.7 130.8,264.0 131.5,260.8 132.2,262.7 132.9,260.6 133.6,260.8 134.3,261.9 135.0,263.6 135.7,262.9 136.4,263.8 137.1,263.0 137.8,261.4 138.5,261.7 139.2,261.4 139.9,263.5 140.6,264.1 141.3,262.6 142.0,260.8 142.7,262.1 143.4,264.4 144.1,261.6 144.8,261.2 145.5,261.9 146.3,261.7 147.0,262.1 147.7,262.8 148.3,263.7 149.1,262.1 149.8,263.5 150.4,264.8 151.2,261.2 151.9,261.1 152.6,265.0 153.3,259.0 154.0,262.6 154.7,264.0 155.4,264.0 156.1,265.0 156.8,263.5 157.5,264.6 158.2,262.4 158.9,261.0 159.6,264.2 160.3,264.4 161.0,263.1 161.7,265.2 162.4,265.0 163.1,264.9 163.8,261.6 164.5,263.3 165.2,261.9 166.0,261.6 166.6,264.3 167.3,264.9 168.0,265.5 168.8,262.2 169.5,263.2 170.2,261.6 170.9,262.6 171.5,265.0 172.3,261.1 173.0,263.9 173.6,265.3 174.3,265.2 175.1,262.4 175.8,262.6 176.5,263.8 177.2,265.3 177.9,264.7 178.6,263.8 179.4,259.9 180.0,263.9 180.8,259.5 181.4,264.2 182.1,263.0 182.9,260.3 183.5,264.0 184.2,263.7 184.9,265.8 185.6,264.2 186.3,262.7 187.0,265.6 187.7,265.2 188.5,261.8 189.2,261.5 189.9,261.2 190.6,259.7 191.2,264.4 191.9,265.3 192.6,264.2 193.3,265.9 194.0,264.8 194.8,262.7 195.5,263.2 196.2,261.6 196.9,264.7 197.6,264.2 198.3,262.7 199.0,265.1 199.7,265.2 200.4,261.5 201.1,264.7 201.8,262.0 202.5,264.4 203.3,262.0 203.2,285.9 202.5,284.9 201.8,283.8 201.1,282.4 200.4,285.5 199.6,287.0 198.9,288.4 198.3,282.7 197.5,287.7 196.8,286.5 196.2,284.2 195.5,282.1 194.7,290.6 194.0,287.6 193.4,283.5 192.7,283.4 192.0,283.4 191.3,283.7 190.5,283.9 189.8,284.0 189.1,286.3 188.4,283.1 187.7,287.0 187.0,283.4 186.3,283.9 185.6,287.5 184.9,286.3 184.2,282.0 183.5,284.1 182.8,284.5 182.1,285.7 181.4,286.7 180.7,283.9 180.0,283.1 179.3,282.8 178.6,281.9 177.9,284.9 177.2,285.6 176.5,283.0 175.8,285.8 175.1,282.9 174.4,285.1 173.7,287.2 173.0,285.6 172.3,284.0 171.6,284.8 170.9,284.0 170.1,290.0 169.5,281.9 168.8,281.9 168.0,282.0 167.3,284.6 166.6,285.2 165.9,284.4 165.2,283.1 164.5,288.9 163.8,282.8 163.1,281.7 162.4,284.1 161.7,287.2 161.0,290.6 160.3,284.9 159.6,285.2 158.9,282.6 158.2,284.4 157.5,287.0 156.8,281.8 156.1,284.6 155.4,283.6 154.8,290.7 153.9,282.2 153.2,281.8 152.6,284.8 151.9,284.2 151.2,286.5 150.5,287.3 149.8,286.9 149.2,292.0 148.5,289.6 147.7,286.2 147.0,286.8 146.2,282.4 145.5,282.4 144.9,286.5 144.1,283.2 143.5,285.5 142.8,286.6 142.0,283.1 141.3,284.0 140.6,285.1 140.0,287.0 139.2,285.3 138.5,284.0 137.8,284.3 137.1,285.3 136.3,283.6 135.8,288.8 135.0,287.5 134.4,287.4 133.7,287.0 132.9,286.5 132.6,289.4 132.0,289.8 130.5,283.8 130.5,288.0 130.0,288.6 128.6,285.4 128.4,287.1 129.6,292.7 125.8,284.0 125.2,284.5 126.0,288.5 124.8,287.4 124.5,288.4 124.3,289.7 124.4,291.9 122.8,289.9 121.3,288.0 120.1,286.9 120.2,289.0 119.2,288.5 121.1,295.0 118.6,290.8 117.8,290.5 117.0,290.4 116.5,291.1 115.7,290.9 114.2,289.1 116.6,296.9 112.7,289.2 112.0,289.2 114.7,298.0 112.6,294.5 111.1,292.8 110.4,292.8 108.9,291.0 110.3,296.4 109.3,295.8 108.9,296.8 106.3,291.8 105.7,291.6 106.0,297.0 105.1,297.7 104.4,293.2 102.9,300.1 102.4,297.1 102.0,294.9 101.7,292.8 99.3,301.5 100.1,293.1 99.5,292.3 98.6,294.8 98.1,296.8 97.6,297.1 96.3,291.5 96.1,296.1 95.0,292.5 94.9,297.1 93.4,291.5 93.3,296.0 93.1,298.7 92.4,298.9 92.2,301.2 89.8,292.1 89.5,294.3 89.4,297.1 88.5,296.2 87.7,296.0 86.8,295.1 86.2,296.0 85.0,294.1 84.6,295.2 83.7,294.7 82.9,294.4 83.6,299.0 82.1,296.6 80.7,295.1 81.5,298.8 79.8,296.8 80.3,299.4 79.8,299.8 78.0,298.1 76.4,296.9 78.8,301.9 77.9,301.8 75.3,299.2 75.7,300.9 73.2,298.9 79.4,308.1 73.2,301.2 75.1,304.7 73.3,303.5 71.5,302.5 70.4,302.3 77.5,311.5 74.7,309.3 68.3,303.1 70.0,306.1 69.3,306.4 68.4,306.4 69.9,309.1 69.6,309.8 71.9,313.0 66.1,308.0 67.4,310.3 64.5,308.5 63.7,308.7 63.9,309.9 65.1,311.8 62.2,310.4 64.2,312.8 63.4,313.1 68.5,317.3 63.1,314.5 63.8,315.6 59.6,314.1 60.6,315.5 60.9,316.3 59.1,316.5 63.9,318.7 58.1,317.7 59.2,318.8 58.1,319.2 58.2,320.0 58.9,320.9 57.8,321.4 59.6,322.5 59.4,323.2 58.6,323.7 59.2,324.5 61.5,325.6 58.5,325.8 58.6,326.5 57.3,327.1 58.7,328.0 56.8,328.4 57.8,329.3 59.0,330.1 56.3,330.5 58.8,331.5 57.4,332.0 57.6,332.8 58.5,333.6 57.1,334.1 59.5,335.1 59.4,335.8 56.8,336.2 57.1,337.0 57.3,337.7 57.6,338.4 55.7,338.9 57.5,339.8 57.9,340.6 56.4,341.1 56.1,341.8 57.2,342.6 55.3,343.1 56.5,344.0 56.4,344.7 56.0,345.3 55.7,346.0 55.6,346.7 55.6,347.4 55.3,348.1 55.4,348.8 56.0,349.6 55.2,350.2 54.7,350.8 54.9,351.6 54.7,352.3 55.7,353.1 55.3,353.8 54.1,354.3 54.8,355.1 54.9,355.8 54.5,356.5 54.1,357.1 54.4,357.9 54.7,358.7 54.0,359.3 53.8,359.9 54.1,360.7 53.9,361.4 53.2,362.0 54.0,362.8 52.9,363.4 52.9,364.1 53.1,364.8 53.9,365.6 53.3,366.3 52.9,366.9 52.8,367.6 53.2,368.4 52.4,369.0 52.1,369.6 52.3,370.4 52.9,371.2 52.4,371.8 52.2,372.5 51.9,373.2 51.8,373.9 51.5,374.5 51.4,375.2 51.3,375.9 51.4,376.7 51.1,377.3 51.3,378.0 51.1,378.7 50.9,379.4 51.4,380.2 51.0,380.8 50.6,381.5 50.7,382.2 50.4,382.9 50.4,383.6 50.2,384.3 50.2,385.0"/>
<polygon points="114.6,276.9 114.6,278.2 115.7,277.8 116.5,277.8 117.2,278.1 117.4,279.1 117.6,280.1 119.3,278.7 119.3,280.0 119.8,280.5 119.8,281.8 121.4,280.6 122.0,280.9 122.5,281.5 122.8,282.4 123.4,282.8 124.5,282.3 125.2,282.5 125.4,283.6 126.0,283.8 126.9,283.8 126.8,285.2 127.2,286.0 128.6,285.1 129.0,285.7 129.2,286.7 130.5,286.0 131.7,285.4 130.6,288.5 131.8,287.8 132.7,287.7 133.6,287.6 134.7,287.2 133.9,289.8 134.4,290.4 136.1,288.9 136.5,289.5 136.6,290.9 137.6,290.4 138.2,290.8 139.2,290.4 138.7,292.6 139.6,292.5 140.9,291.7 140.8,293.2 140.8,294.6 141.6,294.7 142.2,294.9 143.4,294.1 143.7,295.1 144.7,294.8 144.8,296.0 146.0,295.2 146.3,296.2 147.4,295.5 147.9,296.2 148.1,297.2 149.3,296.4 149.2,298.2 150.0,298.2 150.5,298.8 150.7,299.9 151.6,299.6 152.0,300.4 152.7,300.7 153.3,301.0 154.2,300.7 155.1,300.6 155.7,300.9 156.4,301.1 156.5,302.4 157.2,302.5 157.7,303.2 159.2,301.7 158.9,303.7 160.1,302.9 160.6,303.5 160.7,304.8 162.2,303.3 162.5,304.4 163.1,304.6 164.0,304.4 164.1,305.8 164.8,305.8 165.2,306.7 166.6,305.2 166.7,306.7 167.8,305.9 168.5,306.1 168.7,307.5 169.5,307.3 169.8,308.4 170.7,308.1 171.2,308.7 172.4,307.5 172.8,308.4 173.6,308.1 173.7,309.9 174.3,310.2 174.8,311.0 175.9,309.8 176.3,310.7 177.0,311.0 177.8,310.8 178.5,310.8 179.3,310.5 180.1,310.4 180.2,312.3 181.1,311.8 182.1,311.0 182.3,312.7 183.1,312.3 183.7,312.8 184.6,312.2 185.2,312.5 185.6,313.5 186.5,313.2 187.1,313.3 188.0,312.8 188.3,314.3 189.0,314.2 189.5,315.1 190.7,313.6 190.7,315.9 191.6,315.3 192.1,316.2 193.0,315.5 193.8,315.3 194.2,316.7 195.2,315.4 195.6,316.6 196.2,316.9 197.0,316.8 198.0,315.4 198.7,315.7 199.0,317.3 199.5,318.2 200.2,318.2 201.1,317.4 201.5,318.6 202.6,317.1 203.2,317.5 203.8,318.1 202.3,325.4 201.5,325.8 200.6,326.4 199.9,326.4 199.6,324.4 198.4,326.5 197.9,325.5 197.3,324.9 196.5,325.0 195.8,324.7 194.9,325.2 194.2,325.0 193.8,323.6 192.9,324.6 192.2,324.3 191.4,324.3 190.8,324.0 190.3,323.1 189.3,324.0 188.6,323.9 188.4,321.6 187.4,322.6 187.0,321.4 185.7,323.3 185.3,322.3 184.5,322.2 183.7,322.4 183.6,320.3 182.8,320.5 181.8,321.3 181.2,320.9 180.8,319.6 179.9,320.1 179.4,319.2 178.6,319.4 177.4,320.7 177.4,318.4 176.2,319.8 175.8,318.6 174.6,319.8 174.3,318.5 173.4,318.9 172.8,318.4 172.0,318.6 172.0,316.5 170.9,317.2 169.9,318.0 169.2,317.8 169.1,315.9 167.6,317.8 167.8,315.3 166.5,316.6 165.9,316.1 165.6,315.0 165.0,314.5 163.9,315.2 163.9,313.3 163.0,313.7 162.4,313.3 162.0,312.5 160.9,313.1 160.3,312.6 160.0,311.5 158.4,313.3 158.5,311.5 157.5,311.9 157.4,310.4 155.8,312.1 155.2,311.5 154.7,311.0 154.0,310.8 153.2,310.7 153.1,309.4 152.4,309.1 151.2,310.0 150.6,309.4 149.6,309.9 149.8,308.0 149.2,307.6 147.9,308.5 148.3,306.1 147.3,306.6 147.1,305.4 145.6,306.7 145.2,306.0 145.0,304.7 144.1,305.0 143.0,305.5 143.2,303.5 141.7,304.8 141.8,303.2 140.5,304.0 140.6,302.4 140.1,301.8 139.4,301.6 138.5,301.7 136.5,303.8 136.5,302.4 135.9,301.9 135.6,301.0 135.3,300.1 134.2,300.5 133.8,299.7 132.8,300.1 132.5,299.1 132.2,298.2 131.0,298.8 131.1,297.3 129.8,298.1 129.6,297.1 129.4,296.0 128.5,296.1 127.7,296.1 126.4,296.8 125.8,296.5 126.4,294.0 124.7,295.5 125.0,293.6 124.1,293.7 122.8,294.5 123.0,292.9 121.9,293.4 121.7,292.3 120.9,292.1 120.6,291.3 119.5,291.7 118.8,291.5 118.3,291.0 118.2,289.8 116.7,290.8 116.1,290.5 116.8,288.0 115.0,289.5 115.4,287.5 114.5,287.7 114.3,286.6 113.4,286.8 112.9,286.2 112.0,286.3 111.9,285.2 110.5,286.0 109.9,285.6 109.0,285.8"/>
<polygon points="118.7,280.8 118.8,281.6 118.6,282.7 120.2,282.4 121.2,282.5 120.7,283.8 121.3,284.3 121.6,285.0 121.6,285.9 121.7,286.7 123.0,286.6 122.9,287.6 124.0,287.7 123.7,288.7 124.3,289.2 125.5,289.2 124.6,290.7 125.3,291.1 127.6,290.4 126.4,292.1 127.6,292.2 126.7,293.7 127.0,294.4 128.7,294.3 128.0,295.6 129.6,295.6 128.8,296.9 129.5,297.4 130.7,297.7 130.3,298.8 132.3,298.8 131.4,300.0 131.2,300.8 130.8,301.7 131.1,302.4 131.5,303.0 131.9,303.6 132.8,304.1 131.8,305.1 132.4,305.7 133.9,305.8 133.0,306.9 132.7,307.7 134.5,307.8 133.2,309.1 134.1,309.4 135.5,309.6 135.7,310.3 135.9,311.0 136.2,311.6 135.9,312.5 136.8,312.8 135.8,314.0 136.2,314.6 137.1,315.0 137.3,315.6 138.0,316.1 138.2,316.7 137.7,317.6 138.5,317.9 137.8,319.0 138.9,319.1 139.8,319.2 138.8,320.6 140.5,320.2 140.7,320.9 140.6,321.7 140.7,322.5 141.9,322.2 141.7,323.1 142.5,323.2 142.2,324.3 143.6,323.8 144.2,323.9 144.7,324.3 145.3,324.6 144.7,326.5 146.2,325.7 146.0,327.0 146.5,327.5 147.8,327.0 148.4,327.2 148.0,328.9 148.7,329.0 149.6,328.9 150.5,328.6 150.6,329.6 150.7,330.7 152.0,329.8 152.7,329.7 152.5,331.4 153.7,330.5 154.4,330.5 154.5,331.7 155.4,331.2 155.9,331.9 156.8,331.5 157.2,332.3 157.6,333.2 159.0,331.2 158.9,333.6 159.5,333.8 160.0,334.7 160.6,334.7 161.4,334.7 162.3,334.0 162.8,334.5 163.4,334.9 164.4,333.8 164.7,335.4 165.3,335.6 166.1,335.2 166.8,335.1 167.5,335.3 168.0,335.8 168.9,335.1 169.5,335.2 170.5,333.9 170.6,336.8 171.4,336.1 171.9,337.5 172.8,335.8 173.4,336.8 174.0,337.1 174.8,336.9 175.5,337.0 176.2,337.0 176.8,337.8 177.5,337.7 178.3,337.1 179.0,337.3 179.6,337.4 180.2,338.3 180.9,338.5 181.7,338.0 182.3,338.6 183.0,338.1 183.7,338.2 184.5,337.3 185.0,339.3 185.7,339.2 186.5,338.8 187.1,339.1 187.9,337.6 188.5,339.3 189.2,338.5 190.0,337.6 190.6,338.8 191.3,338.5 192.0,338.9 192.6,340.1 193.3,340.0 194.0,340.6 194.7,339.9 195.4,339.9 196.1,340.2 196.8,340.1 197.4,340.5 198.2,339.3 198.8,340.2 199.5,339.9 200.2,340.1 200.9,340.3 201.6,339.8 202.3,339.7 203.0,340.3 203.0,346.2 202.3,346.1 201.6,347.3 200.8,346.3 200.1,346.8 199.4,345.6 198.6,348.4 198.0,346.4 197.3,345.8 196.5,345.6 195.8,345.8 195.1,346.3 194.3,346.9 193.6,347.0 192.9,346.6 192.2,346.7 191.5,345.4 190.8,346.2 190.1,346.1 189.4,345.4 188.5,346.9 187.9,346.0 187.2,345.4 186.4,345.9 185.8,345.0 185.0,345.5 184.2,347.1 183.7,345.0 182.8,346.0 182.1,346.1 181.5,344.9 180.6,346.2 179.9,345.8 179.4,344.8 178.7,344.5 177.9,344.9 177.1,345.7 176.4,345.1 175.6,345.5 175.0,345.2 174.5,343.7 173.6,344.3 172.8,344.9 172.2,344.3 171.6,343.6 170.7,344.5 170.2,343.2 169.3,343.7 168.4,344.6 167.9,343.2 167.3,343.0 166.5,343.2 165.8,342.8 164.9,343.6 164.5,341.9 163.3,343.6 163.0,342.0 162.4,341.3 161.3,342.7 160.8,341.7 159.8,342.3 159.4,341.2 158.3,342.1 158.1,340.2 157.1,341.1 156.0,341.9 155.6,340.6 155.2,339.6 154.0,340.8 153.4,340.1 153.2,338.6 152.4,338.6 151.6,338.6 151.0,337.9 150.5,337.2 149.6,337.2 148.9,336.9 148.4,336.2 147.1,336.8 146.4,336.5 146.1,335.5 145.3,335.4 144.6,335.0 143.4,335.4 143.1,334.6 142.4,334.2 141.9,333.6 141.5,332.9 141.6,331.6 140.8,331.4 140.0,331.2 139.0,331.2 138.7,330.3 137.7,330.3 138.0,328.8 137.0,328.7 136.4,328.1 135.7,327.5 134.7,327.2 134.6,326.3 134.1,325.6 134.5,324.4 134.2,323.7 133.1,323.4 133.3,322.4 132.0,322.2 132.8,320.9 131.7,320.5 131.2,319.9 130.7,319.3 131.1,318.3 130.7,317.7 129.5,317.4 131.0,316.0 130.1,315.6 128.7,315.5 128.9,314.6 129.3,313.6 129.0,313.0 128.6,312.4 127.6,312.0 127.9,311.1 125.7,311.2 128.3,309.5 126.3,309.4 127.7,308.1 127.7,307.3 126.4,307.0 127.2,306.0 126.5,305.5 126.6,304.7 125.2,304.5 125.2,303.7 124.5,303.3 124.2,302.7 125.4,301.5 125.3,300.8 122.8,301.2 124.6,299.7 124.4,299.1 122.1,299.6 122.4,298.8 123.6,297.3 122.1,297.5 122.3,296.6 122.3,295.8 122.1,295.1 120.7,295.2 121.4,293.9 120.5,293.7 120.2,293.0 120.0,292.3 118.6,292.4 117.7,292.2 118.9,290.5 117.9,290.3 116.8,290.3 117.3,289.1 117.1,288.3 115.5,288.7 116.5,287.1 116.0,286.6 114.1,287.1 114.8,285.8 114.8,284.9 114.3,284.4"/>
<polygon points="111.8,278.7 114.0,277.8 111.8,280.7 112.4,281.2 112.5,282.1 114.0,281.9 114.9,282.2 115.1,283.0 114.1,284.8 116.2,284.3 117.8,284.4 117.2,285.7 117.9,286.4 118.4,287.0 116.6,288.7 118.6,288.5 117.6,289.8 118.7,290.1 119.4,290.6 120.3,291.0 120.2,291.8 120.9,292.4 121.1,293.1 122.4,293.3 119.6,295.3 120.5,295.7 122.3,295.7 121.7,296.8 120.6,298.0 122.9,297.9 123.7,298.3 121.8,299.8 123.9,299.8 123.5,300.7 123.8,301.4 122.5,302.6 125.2,302.3 125.9,302.8 123.5,304.5 125.6,304.5 124.6,305.6 124.0,306.6 125.6,306.8 126.7,307.2 126.3,308.1 125.1,309.3 127.5,309.3 126.6,310.3 127.2,310.9 127.0,311.7 128.7,311.9 130.1,312.3 128.8,313.5 129.4,314.0 128.6,315.0 129.5,315.5 128.0,316.7 128.4,317.3 129.9,317.6 129.9,318.3 130.9,318.7 129.5,319.9 129.3,320.7 130.1,321.2 131.6,321.4 130.9,322.4 130.6,323.2 131.2,323.7 132.1,324.1 130.7,325.4 132.5,325.4 132.0,326.3 133.4,326.4 133.4,327.1 133.6,327.6 132.0,329.0 134.3,328.6 132.6,330.1 133.6,330.2 133.5,330.9 134.6,330.9 135.7,330.7 134.8,332.0 136.1,331.6 136.5,331.9 136.8,332.2 137.1,332.6 136.8,333.7 136.7,334.8 137.3,335.1 140.4,331.6 139.7,333.6 139.5,335.0 140.0,335.4 141.1,334.7 141.0,336.2 141.3,336.8 142.9,335.3 142.2,338.0 143.5,336.9 143.7,338.1 144.7,337.7 145.9,336.8 146.2,337.8 146.7,338.4 146.8,339.8 148.4,338.1 148.4,339.6 148.7,340.8 149.8,339.9 149.9,341.4 151.4,339.7 151.4,341.1 151.9,341.7 152.5,342.1 153.0,342.4 153.6,342.7 155.5,339.2 154.8,343.2 155.7,342.4 156.7,341.8 157.2,342.4 157.7,343.1 158.7,342.1 158.8,344.1 159.4,344.5 160.1,344.3 161.3,343.0 162.4,341.6 162.0,345.3 162.6,345.6 163.4,345.3 164.1,345.5 164.6,346.0 165.4,345.7 166.2,345.3 166.9,345.7 167.5,345.8 168.0,346.5 168.9,345.9 169.1,348.1 170.1,346.9 171.4,344.1 171.5,346.8 172.3,346.4 172.5,348.8 173.4,347.5 174.2,347.3 174.7,348.6 175.3,349.1 176.3,347.7 177.0,347.9 177.3,349.7 178.3,348.3 179.0,348.6 179.6,349.3 180.4,348.6 181.1,348.5 181.4,350.9 182.0,351.2 183.0,350.1 183.4,351.4 184.2,351.1 184.8,351.6 186.4,347.0 186.4,350.9 186.9,351.7 187.7,351.6 188.3,352.2 189.6,348.8 189.7,352.4 190.7,350.8 191.2,351.7 191.7,353.0 192.7,351.1 193.2,352.3 193.7,353.6 194.8,351.8 195.4,352.1 196.0,352.7 196.7,353.1 197.5,352.3 198.3,351.8 198.8,353.2 199.7,352.2 200.2,353.3 200.8,354.3 201.7,353.1 202.4,353.0 202.8,354.9 203.5,354.8 202.4,362.2 201.5,363.2 200.8,363.2 200.1,363.0 199.7,361.2 198.9,361.3 198.3,360.8 197.6,360.5 196.6,362.4 196.1,360.9 195.0,362.9 194.5,361.6 194.0,360.5 193.1,361.6 192.7,359.8 191.7,361.5 191.0,360.9 190.2,361.4 189.5,361.2 188.8,361.2 188.5,359.1 187.8,358.9 187.1,358.7 186.0,360.5 185.3,360.8 185.0,358.4 184.3,358.1 183.3,359.4 182.8,358.2 181.8,359.8 181.4,358.0 179.7,363.2 179.8,358.7 179.0,359.2 178.3,359.2 177.7,358.6 177.2,357.4 175.8,360.5 175.7,357.6 174.7,358.9 174.5,356.7 173.7,357.0 172.9,357.1 171.8,359.1 171.5,356.9 170.6,357.7 169.9,357.4 169.3,356.9 168.0,359.4 167.8,356.7 167.3,355.6 166.3,356.7 165.6,356.5 164.5,358.1 164.3,355.6 163.8,354.9 162.5,356.7 162.1,355.6 161.3,355.7 160.5,355.9 160.3,353.7 159.7,353.4 158.4,355.1 158.2,353.2 156.9,355.0 156.6,353.5 155.7,353.8 155.2,353.1 153.2,356.8 153.2,354.5 152.9,353.0 151.8,353.9 150.4,355.6 151.1,351.4 149.6,353.2 149.0,352.4 148.4,351.8 148.0,350.6 146.6,351.8 145.8,351.8 145.0,351.7 145.1,349.7 144.2,349.8 144.0,348.8 143.6,347.9 142.4,348.6 141.9,348.1 140.8,348.7 140.6,347.6 140.3,346.5 139.9,345.8 139.0,346.0 138.6,345.1 137.9,344.9 134.8,349.0 136.4,344.5 135.4,344.6 133.2,346.8 133.3,345.0 133.7,342.8 132.3,343.4 132.2,342.2 132.0,341.0 131.4,340.4 129.2,341.5 129.6,339.7 126.4,341.4 125.7,340.6 127.8,337.6 126.3,337.6 126.6,336.3 125.3,336.0 124.5,335.4 124.0,334.7 124.2,333.6 124.4,332.6 122.9,332.3 122.6,331.5 122.1,330.8 121.7,330.1 121.8,329.2 123.2,328.0 121.3,327.8 118.4,328.0 120.5,326.6 120.4,325.8 120.9,324.9 120.5,324.2 119.5,323.8 121.7,322.3 118.8,322.5 118.8,321.7 120.8,320.4 118.2,320.4 120.6,319.0 119.9,318.4 119.0,318.0 118.1,317.5 118.3,316.8 118.9,315.8 119.5,314.9 118.2,314.6 119.1,313.6 118.2,313.2 117.4,312.8 117.8,311.9 117.9,311.1 116.2,311.0 117.2,310.0 116.1,309.6 115.2,309.2 116.4,308.0 117.0,307.0 113.5,307.6 115.5,306.1 115.3,305.4 114.1,305.2 114.3,304.3 114.1,303.6 114.0,302.9 114.3,302.0 113.1,301.8 113.3,301.0 112.1,300.7 113.8,299.3 112.1,299.2 112.9,298.1 112.3,297.6 110.7,297.6 111.0,296.7 112.5,295.3 110.9,295.3 111.0,294.5 109.0,294.7 109.6,293.6 110.7,292.4 109.3,292.2 109.9,291.2 109.6,290.6 108.8,290.3 108.3,290.0 107.1,290.1 109.0,288.1 107.2,288.7 105.1,289.5 106.8,287.4 106.1,287.2 105.8,286.6 106.4,285.2 104.5,285.9 103.9,285.6"/>
</g>
<g id="annot">
<line x1="99.3" y1="30.3" x2="99.3" y2="40.9" stroke="#111" stroke-width="1.2"/><polygon points="96.39999999999999,39.9 102.2,39.9 99.3,45.5" fill="#111"/>
<line x1="51.3" y1="161" x2="51.3" y2="170.9" stroke="#111" stroke-width="1.2"/><polygon points="48.4,169.9 54.199999999999996,169.9 51.3,175.5" fill="#111"/>
<path d="M29.6,196.7H45M29.6,193.39999999999998V200.0M45,193.39999999999998V200.0" stroke="#111" stroke-width="1.45" fill="none"/>
<line x1="355.5" y1="27" x2="355.5" y2="37.9" stroke="#111" stroke-width="1.2"/><polygon points="352.6,36.9 358.4,36.9 355.5,42.5" fill="#111"/>
<line x1="299.8" y1="157" x2="299.8" y2="167.4" stroke="#111" stroke-width="1.2"/><polygon points="296.90000000000003,166.4 302.7,166.4 299.8,172" fill="#111"/>
<path d="M281.8,191.5H297M281.8,188.2V194.8M297,188.2V194.8" stroke="#111" stroke-width="1.45" fill="none"/>
<line x1="102.6" y1="245.6" x2="102.6" y2="256.4" stroke="#111" stroke-width="1.2"/><polygon points="99.69999999999999,255.4 105.5,255.4 102.6,261" fill="#111"/>
<line x1="29" y1="374.4" x2="29" y2="383.4" stroke="#111" stroke-width="1.2"/><polygon points="26.1,382.4 31.9,382.4 29,388" fill="#111"/>
<path d="M54,403.2H69.5M54,399.9V406.5M69.5,399.9V406.5" stroke="#111" stroke-width="1.45" fill="none"/>
</g>
<g id="pB">
<path d="M86.4,662.8V658.7M82.8,658.7H90.1" stroke="#111" stroke-width="1.7" fill="none"/>
<rect x="77.9" y="662.8" width="17" height="25.6" fill="#b9b9b9" stroke="#0d0d0d" stroke-width="1.7"/>
<line x1="86.4" y1="688.4" x2="86.4" y2="692.6" stroke="#111" stroke-width="1.5"/>
<path d="M113.1,606.2V596.5M109.5,596.5H116.8" stroke="#111" stroke-width="1.7" fill="none"/>
<rect x="104.6" y="606.2" width="17" height="82.2" fill="#b9b9b9" stroke="#0d0d0d" stroke-width="1.7"/>
<line x1="113.1" y1="688.4" x2="113.1" y2="692.6" stroke="#111" stroke-width="1.5"/>
<path d="M139.7,501.6V497M136.1,497H143.4" stroke="#111" stroke-width="1.7" fill="none"/>
<rect x="131.2" y="501.6" width="17" height="186.8" fill="#b9b9b9" stroke="#0d0d0d" stroke-width="1.7"/>
<line x1="139.7" y1="688.4" x2="139.7" y2="692.6" stroke="#111" stroke-width="1.5"/>
<path d="M166.3,492.2V485.7M162.8,485.7H170.0" stroke="#111" stroke-width="1.7" fill="none"/>
<rect x="157.8" y="492.2" width="17" height="196.2" fill="#b9b9b9" stroke="#0d0d0d" stroke-width="1.7"/>
<line x1="166.3" y1="688.4" x2="166.3" y2="692.6" stroke="#111" stroke-width="1.5"/>
<path d="M193.0,495.7V494.6M189.4,494.6H196.7" stroke="#111" stroke-width="1.7" fill="none"/>
<rect x="184.5" y="495.7" width="17" height="192.7" fill="#b9b9b9" stroke="#0d0d0d" stroke-width="1.7"/>
<line x1="193.0" y1="688.4" x2="193.0" y2="692.6" stroke="#111" stroke-width="1.5"/>
<path d="M219.7,620V605.4M216.1,605.4H223.3" stroke="#111" stroke-width="1.7" fill="none"/>
<rect x="211.2" y="620" width="17" height="68.4" fill="#b9b9b9" stroke="#0d0d0d" stroke-width="1.7"/>
<line x1="219.7" y1="688.4" x2="219.7" y2="692.6" stroke="#111" stroke-width="1.5"/>
<path d="M246.3,490.5V484.2M242.7,484.2H250.0" stroke="#111" stroke-width="1.7" fill="none"/>
<rect x="237.8" y="490.5" width="17" height="197.9" fill="#b9b9b9" stroke="#0d0d0d" stroke-width="1.7"/>
<line x1="246.3" y1="688.4" x2="246.3" y2="692.6" stroke="#111" stroke-width="1.5"/>
<path d="M272.9,514.3V495.3M269.3,495.3H276.6" stroke="#111" stroke-width="1.7" fill="none"/>
<rect x="264.4" y="514.3" width="17" height="174.1" fill="#b9b9b9" stroke="#0d0d0d" stroke-width="1.7"/>
<line x1="272.9" y1="688.4" x2="272.9" y2="692.6" stroke="#111" stroke-width="1.5"/>
<path d="M299.6,494.6V493.3M296.0,493.3H303.3" stroke="#111" stroke-width="1.7" fill="none"/>
<rect x="291.1" y="494.6" width="17" height="193.8" fill="#b9b9b9" stroke="#0d0d0d" stroke-width="1.7"/>
<line x1="299.6" y1="688.4" x2="299.6" y2="692.6" stroke="#111" stroke-width="1.5"/>
<path d="M326.2,557V554M322.6,554H329.9" stroke="#111" stroke-width="1.7" fill="none"/>
<rect x="317.8" y="557" width="17" height="131.4" fill="#b9b9b9" stroke="#0d0d0d" stroke-width="1.7"/>
<line x1="326.2" y1="688.4" x2="326.2" y2="692.6" stroke="#111" stroke-width="1.5"/>
<line x1="298.3" y1="503" x2="298.3" y2="700" stroke="#9a9a9a" stroke-width="0.8"/>
<line x1="298.3" y1="496" x2="298.3" y2="520" stroke="#e4e4e4" stroke-width="0.9"/>
<path d="M59.7,482.2V688.4M55.4,688.4H340" stroke="#0a0a0a" stroke-width="2.1" fill="none"/>
<line x1="55.4" y1="649.2" x2="59.7" y2="649.2" stroke="#0a0a0a" stroke-width="2"/>
<line x1="55.4" y1="610.1" x2="59.7" y2="610.1" stroke="#0a0a0a" stroke-width="2"/>
<line x1="55.4" y1="570.9" x2="59.7" y2="570.9" stroke="#0a0a0a" stroke-width="2"/>
<line x1="55.4" y1="531.8" x2="59.7" y2="531.8" stroke="#0a0a0a" stroke-width="2"/>
<line x1="55.4" y1="492.6" x2="59.7" y2="492.6" stroke="#0a0a0a" stroke-width="2"/>
</g>
<g font-family="'Liberation Sans', Arial, sans-serif" fill="#141414" stroke="#141414" stroke-width="0.3" stroke-linejoin="round">
<text transform="translate(1.3,18.8) scale(1.1,1)" font-size="24.5" font-weight="bold" fill="#000" stroke="none">A</text>
<text x="0.5" y="463.4" font-size="24" font-weight="bold" fill="#000">B</text>
<text x="18.8" y="31.7" font-size="11.6" stroke-width="0.12">65</text>
<text x="265.6" y="32.4" font-size="11.6" stroke-width="0.12">65</text>
<text x="16.3" y="250.9" font-size="11.6" stroke-width="0.12">65</text>
<text transform="translate(14.2,116) rotate(-90)" text-anchor="middle" font-size="13.5">Aggregation (%)</text>
<text transform="translate(264.6,114.4) rotate(-90)" text-anchor="middle" font-size="13.5">Aggregation (%)</text>
<text transform="translate(14.3,337.4) rotate(-90)" text-anchor="middle" font-size="13.5">Aggregation (%)</text>
<text x="40" y="159.5" font-size="9.5">ADP</text>
<text x="27" y="208.3" font-size="9.5">1 min</text>
<text x="287.8" y="155.2" font-size="9.5">ADP</text>
<text x="278.3" y="205" font-size="9.5">1 min</text>
<text x="26.4" y="371.2" font-size="9.5">Collagen</text>
<text x="50.8" y="416.8" font-size="9.5">1 min</text>
<text x="205.2" y="77.4" font-size="9.5">Vehicle</text>
<text x="205.2" y="114.2" font-size="9.5">MRS2179</text>
<text x="205.2" y="185.2" font-size="9.5">Aggrastat</text>
<text x="205.6" y="197.2" font-size="9.5">Iloprost</text>
<text x="456.6" y="75.1" font-size="9.5">Vehicle</text>
<text x="454.1" y="158.6" font-size="9.5">TGX221</text>
<text x="454.9" y="176.5" font-size="9.5">Wortmannin</text>
<text x="454.3" y="185.9" font-size="9.5">AR-C69931MX</text>
<text x="205.8" y="279.2" font-size="9.5">Vehicle</text>
<text x="205.3" y="325.7" font-size="9.5">TGX221</text>
<text x="205.4" y="345.8" font-size="9.5">Wortmannin</text>
<text x="205.1" y="362" font-size="9.5">AR-C69931MX</text>
<text x="86.4" y="654.6" text-anchor="middle" font-size="14.5">21</text>
<text transform="translate(91.7,699) rotate(-90)" text-anchor="end" font-size="14.7" font-weight="bold" fill="#000">None</text>
<text x="113.1" y="591.3" text-anchor="middle" font-size="14.5">93</text>
<text transform="translate(118.4,699) rotate(-90)" text-anchor="end" font-size="14.7" font-weight="bold" fill="#000">Indomethacin</text>
<text x="139.7" y="491.6" text-anchor="middle" font-size="14.5">225</text>
<text transform="translate(145.0,699) rotate(-90)" text-anchor="end" font-size="14.7" font-weight="bold" fill="#000">Aggrastat</text>
<text x="166.3" y="481" text-anchor="middle" font-size="14.5">250</text>
<text transform="translate(171.7,699) rotate(-90)" text-anchor="end" font-size="14.7" font-weight="bold" fill="#000">Iloprost</text>
<text x="193.0" y="490.6" text-anchor="middle" font-size="14.5">233</text>
<text transform="translate(198.3,699) rotate(-90)" text-anchor="end" font-size="14.7" font-weight="bold" fill="#000">Apyrase</text>
<text x="219.7" y="602" text-anchor="middle" font-size="14.5">81</text>
<text transform="translate(225.0,699) rotate(-90)" text-anchor="end" font-size="14.7" font-weight="bold" fill="#000">MRS2179</text>
<text x="246.3" y="480.6" text-anchor="middle" font-size="14.5">250</text>
<text transform="translate(251.6,699) rotate(-90)" text-anchor="end" font-size="14.7" font-weight="bold" fill="#000">AR-C69931MX</text>
<text x="272.9" y="491.6" text-anchor="middle" font-size="14.5">211</text>
<text transform="translate(278.2,699) rotate(-90)" text-anchor="end" font-size="14.7" font-weight="bold" fill="#000">Wortmannin</text>
<text x="299.6" y="489.4" text-anchor="middle" font-size="14.5">235</text>
<text transform="translate(304.9,699) rotate(-90)" text-anchor="end" font-size="14.7" font-weight="bold" fill="#000">LY294002</text>
<text x="326.2" y="549.3" text-anchor="middle" font-size="14.5">159</text>
<text transform="translate(331.6,699) rotate(-90)" text-anchor="end" font-size="14.7" font-weight="bold" fill="#000">TGX221</text>
<text x="49" y="693.8" text-anchor="end" font-size="14.8" font-weight="bold" fill="#000">0</text>
<text x="49" y="654.6" text-anchor="end" font-size="14.8" font-weight="bold" fill="#000">20</text>
<text x="49" y="615.5" text-anchor="end" font-size="14.8" font-weight="bold" fill="#000">40</text>
<text x="49" y="576.3" text-anchor="end" font-size="14.8" font-weight="bold" fill="#000">60</text>
<text x="49" y="537.2" text-anchor="end" font-size="14.8" font-weight="bold" fill="#000">80</text>
<text x="49" y="498.0" text-anchor="end" font-size="14.8" font-weight="bold" fill="#000">100</text>
<text transform="translate(16.8,590.5) rotate(-90)" text-anchor="middle" font-size="17.7">Disaggregation (% of vehicle)</text>
</g>
</svg>
</body>
</html>
